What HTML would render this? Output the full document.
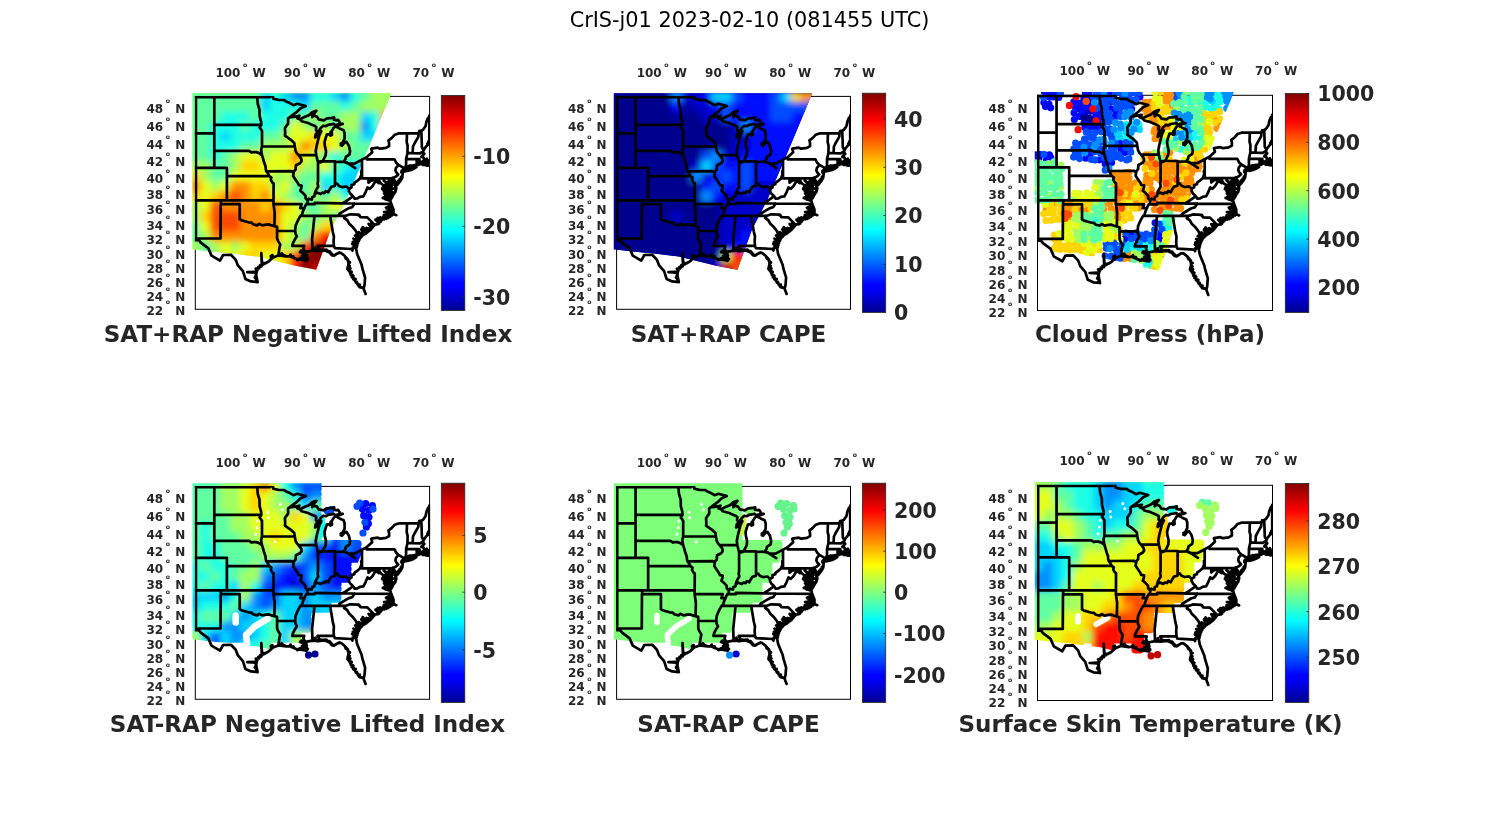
<!DOCTYPE html>
<html lang="en"><head><meta charset="utf-8"><title>CrIS-j01 2023-02-10 (081455 UTC)</title>
<style>html,body{margin:0;padding:0;background:#fff}svg{display:block}text{font-family:"DejaVu Sans","Liberation Sans",sans-serif}.b{font-weight:bold;fill:#262626}.tk{font-size:12px}.dg{font-size:6.2px}.cb{font-size:20.5px}.pt{font-size:23.05px}</style></head><body>
<svg width="1500" height="825" viewBox="0 0 1500 825">
<defs>
<linearGradient id="jet" x1="0" y1="1" x2="0" y2="0">
<stop offset="0" stop-color="rgb(0,0,143)"/>
<stop offset="0.11" stop-color="rgb(0,0,255)"/>
<stop offset="0.125" stop-color="rgb(0,0,255)"/>
<stop offset="0.25" stop-color="rgb(0,128,255)"/>
<stop offset="0.375" stop-color="rgb(0,255,255)"/>
<stop offset="0.5" stop-color="rgb(128,255,128)"/>
<stop offset="0.625" stop-color="rgb(255,255,0)"/>
<stop offset="0.75" stop-color="rgb(255,128,0)"/>
<stop offset="0.875" stop-color="rgb(255,0,0)"/>
<stop offset="1" stop-color="rgb(128,0,0)"/>
</linearGradient>
<clipPath id="fc"><rect x="-0.5" y="-0.5" width="235.3" height="213.9"/></clipPath>
<clipPath id="dc"><rect x="-4" y="-4" width="242.3" height="220.9"/></clipPath>
<filter id="bl2" x="-20%" y="-20%" width="140%" height="140%"><feGaussianBlur stdDeviation="2"/></filter>
<filter id="bl4" x="-30%" y="-30%" width="160%" height="160%"><feGaussianBlur stdDeviation="4"/></filter>
<filter id="bl7" x="-40%" y="-40%" width="180%" height="180%"><feGaussianBlur stdDeviation="7"/></filter>
<clipPath id="sw"><polygon points="-3,-3.2 196,-3.2 175.6,45.5 150.4,104.6 135.6,133 121,173.4 98.8,169 62.4,160.2 37.7,157.2 16,155 -3,152.8"/></clipPath><filter id="bl3" x="-10%" y="-10%" width="120%" height="120%"><feGaussianBlur stdDeviation="3.2"/></filter><mask id="mk3" maskUnits="userSpaceOnUse" x="-10" y="-10" width="260" height="200"><path d="M-2.5 -2.5h125M-2.5 2.5h125M-2.5 7.5h125M-2.5 12.5h125M-2.5 17.5h125M-2.5 22.5h125M-2.5 27.5h125M-2.5 32.5h125M-2.5 37.5h125M-2.5 42.5h125M-2.5 47.5h125M-2.5 52.5h125M-2.5 57.5h165M-2.5 62.5h165M-2.5 67.5h165M-2.5 72.5h165M-2.5 77.5h155M-2.5 82.5h155M-2.5 87.5h155M-2.5 92.5h155M-2.5 97.5h145M-2.5 102.5h145M-2.5 107.5h145M-2.5 112.5h145M-2.5 117.5h135M-2.5 122.5h135M-2.5 127.5h115M-2.5 132.5h115M-2.5 137.5h115M-2.5 142.5h115M-2.5 147.5h105M-2.5 152.5h105M57.5 157.5h15M57.5 162.5h15" fill="none" stroke="#fff" stroke-width="7.8" stroke-linecap="round"/></mask><mask id="mk5" maskUnits="userSpaceOnUse" x="-10" y="-10" width="260" height="200"><path d="M-2.5 -2.5h125M-2.5 2.5h125M-2.5 7.5h125M-2.5 12.5h125M-2.5 17.5h125M-2.5 22.5h125M-2.5 27.5h125M-2.5 32.5h125M-2.5 37.5h125M-2.5 42.5h125M-2.5 47.5h125M-2.5 52.5h125M-2.5 57.5h165M-2.5 62.5h165M-2.5 67.5h165M-2.5 72.5h165M-2.5 77.5h155M-2.5 82.5h155M-2.5 87.5h155M-2.5 92.5h155M-2.5 97.5h145M-2.5 102.5h145M-2.5 107.5h145M-2.5 112.5h145M-2.5 117.5h135M-2.5 122.5h135M-2.5 127.5h115M-2.5 132.5h115M-2.5 137.5h115M-2.5 142.5h115M-2.5 147.5h105M-2.5 152.5h105M37.5 157.5h5M37.5 162.5h5M57.5 157.5h15M57.5 162.5h15M97.5 157.5h5M97.5 162.5h5" fill="none" stroke="#fff" stroke-width="7.8" stroke-linecap="round"/></mask>
<g id="st" fill="none" stroke="#000" stroke-width="2.7" stroke-linejoin="round" stroke-linecap="round"><path d="M-0.8 0 L74.9 0 L74.9 -3.7 L76.9 -3.1 L78 2.4 L83 3.5 L86.5 3.6 L88.7 3.6 L91.5 5.4 L94.6 6.7 L98.1 8.8 L101.9 7.4 L106.6 8.6 L109.7 9.5 L110.3 9.7 M19 0 L19 71.4 M-0.8 37 L19 37 M-0.8 71.4 L31.6 71.4 L31.6 103.9 M31.6 79.7 L73.9 79.7 M-0.8 103.9 L78.2 103.9 M25.6 103.9 L25.6 107.8 L44.4 107.8 L44.4 122.8 M25.4 107.8 L25.2 142.1 L2.9 142.1 L3.5 143.7 L-0.8 143.7 M19 28.5 L66 28.5 M19 54.5 L53.9 54.5 L56.4 56.2 L57.9 55.6 L60.8 55.7 L63.3 56.5 L65.1 57.7 L66.7 58.8 M61.8 0 L62.5 7.6 L64.2 13.3 L64.3 19.7 L65.8 25.2 L66 28.5 L64.3 31.1 L66.7 34.3 L66.7 50.1 L65.8 53.6 L66.7 58.8 M66.7 50.1 L99.5 50.1 M66.7 58.8 L68 63 L68.9 66.4 L70.2 69.8 L70.5 73.1 L71 74.9 L73 77.6 L73.9 79.7 L76.1 81.3 L75.5 83.4 L77.1 86.2 L78.3 87 L78.2 107.8 M71 74.9 L96.3 74.7 L98.3 76.6 M78.2 107.8 L106.3 107.8 L104.9 111.7 L109.1 111.7 M78.2 107.8 L79.4 116.3 L79.1 129.8 M44.4 122.8 L46.3 124 L49.5 124.8 L53.2 125.9 L56.4 126.3 L57.6 127.8 L62 129 L63.9 127.4 L67 129 L70.8 128.2 L73.9 128 L76.4 129 L79.1 129.8 L81.8 130.5 L81.8 142.1 L83 145 L84.9 148 L84 152.4 L83.7 154.6 L83 159 M81.8 134.5 L99.9 134.6 M94 21.1 L92.8 22 L92.8 27.2 L89.6 31.6 L89.9 37 L89.6 39.2 L92.8 41.4 L95.3 43.2 L99 46.7 L99.5 50.1 L100.3 54.5 L101.6 57 L103.2 58.7 L105.9 62.2 L106.3 64.7 L104.7 66.8 L100.6 68.9 L100.3 73.1 L98.4 75.2 L98.3 76.6 L97.8 79.7 L100.3 83.4 L102.8 87.1 L103.4 88.7 L106.3 89.1 L105.9 91.9 L105 94.3 L107.8 96.7 L110.3 99.5 L110.3 101.9 L112.5 104 L112.2 107 L111 107.8 L110 109.3 L109.1 111.7 L107.5 115.2 L106.6 118.7 L105.3 119.4 L103.4 122.5 L101.6 126.3 L100.3 129.3 L100 132.4 L99.9 134.6 L100.3 137.6 L101.6 139.9 L99.7 142.8 L97.8 146.5 L97 149.5 L108.9 149.5 L108.1 152 L109.4 154.6 L110.2 155.5 M103.2 58.7 L121 58.8 M122.7 65 L122.7 85 L122.3 87.1 L122.9 90.3 L121.3 92.7 L120.1 95.1 L119.4 97.5 M112.5 104 L113.5 102.3 L116.6 103.3 L116.9 100.7 L119.1 99.9 L119.4 97.5 L122.3 96.3 L125.4 97.5 L127.3 96.1 L129.2 96.7 L130.4 94.7 L132.9 95.9 L133.9 93.8 L136.1 90.3 L139.5 89.5 L139.7 87.1 L141.7 87.1 L143.6 89.5 L146.7 90.7 L151.1 90.1 L153.6 92.5 L156.2 91.1 L156.2 88.7 L159 87.9 L159.3 86.2 L161.8 84.6 L164.6 82.2 L166.2 78.1 L165.9 74.8 L166.7 74.4 M139.7 87.1 L139.7 65.6 M124.8 65 L139.7 65 L139.7 65.6 L148.3 65.3 M166.7 63.2 L166.7 82 L196.4 82 L197.6 81.1 L198.5 81.2 M171.5 60.7 L171.5 63 L199.2 63 L201 66.4 L203.2 68.5 L200.7 71.4 L200.1 73.9 L201 76 L202.9 78.1 L200.7 80.1 L198.5 81.2 M203.2 68.5 L208.3 71.4 L207.5 73.9 M111 107.8 L119.4 107.8 L119.4 106.5 L146.9 107 L159.4 107.1 L195.9 107.4 M105.3 119.4 L150.5 119.4 M142.9 119.4 L144.5 117.1 L148 115 L150.5 113.5 L153.6 111.7 L156.8 110.9 L159.4 107.1 M118.5 119.4 L119.1 120.2 L116.8 142.8 L117.2 154.1 M134.8 119.4 L137.5 135.6 L138.6 139.9 L138.3 145 L138.6 149.5 M122.8 154.7 L123.5 151.7 L122.3 149.5 L138.6 149.5 L139.5 151.7 L156.1 152.6 L157.1 154.2 L157.4 151.3 L160.9 151.6 M150.5 119.4 L148.9 121.7 L151.8 123.6 L154 127.4 L157.7 130.9 L160.6 134.6 L161.8 138 L164.3 141.7 M150.5 119.4 L154.9 117.9 L163.4 118.3 L163.4 119 L164.1 118.7 L165.1 120.8 L172 121 L179.1 128.2 M146.9 107 L150.5 105 L155.5 101.5 L157.6 99.6 L154.9 97.1 L153.6 94.6 L153.6 92.5 M157.6 99.6 L159.4 102.3 L162.2 102 L164.6 100.5 L168.1 99.9 L168.6 98.9 L170.2 95.9 L172.2 91.1 L174.4 92.5 L177.1 89.8 L180.3 84.6 L183.6 86.8 L184.3 85.3 M184.3 85.3 L183.6 83 L180 82.8 L177.5 83.8 L175.6 84.2 L173.2 86.2 L173.2 82 M184.3 85.3 L185.7 87.1 L188.5 89.1 L186.9 92.7 L188.8 93.5 L193.2 96.3 M196.4 82 L196.4 92.3 L201 92.3 M195.7 96.3 L199.8 95.9 M209.8 71.4 L210.8 68.9 L210.8 62.6 L212.2 56.6 L212.3 49.3 L211.4 45.8 L211.7 37 M210.8 62.7 L221.4 62.8 L224.1 62.8 L224.1 63.9 L225.7 67.2 M212.2 56.7 L217.3 56.8 L224.6 57 L226.5 55.8 L227.7 55.6 M217.3 56.8 L217.7 50.1 L219.9 45.8 L223 40.5 L223.3 37 M228.3 53.9 L226.6 51 L226.3 41.4 L226 34.3 L227.7 33.4 L230.2 29.8 L231.2 25.2 L232.7 21.6 M193.2 44 L196.3 41.8 L199.5 38.3 L203.2 37 L223.3 37 L223.9 34.7 L226 34.3 M221.4 62.8 L221.4 68.9 M3.5 143.7 L5.5 146.2 L13.1 152 L16.2 159.3 L24.7 164.2 L27.8 158.6 L35.7 158.4 L40.4 163.3 L42.6 169 L47.6 174.7 L50.1 182.5 L55.7 185 L62.3 185.7 L60.8 178.3 L62 172.6 L67 168.3 L73.9 164.7 L77.7 161.1 L83 159 L90.9 160 L94 159.7 L99 161.9 L103.4 163.3 L105.9 163.3 L111 164.4 L111.9 161.9 L109.7 159 L111 156.8 L110.2 155.5 L117.2 154.2 L119.1 154.6 L119.8 151.7 L121 154.6 L122.8 154.7 L129.2 153.9 L134.2 156.1 L136.7 159.1 L139.2 159 L143 156.4 L145.5 156.4 L149.3 159.4 L152.7 163.3 L153.6 166 L152.7 169.8 L152.1 172.5 L154.3 175.4 L156.3 179.1 L158.4 182.5 L160.6 185.6 L163.9 189.9 L168.1 191.9 L170.3 197.5 L168.3 192.3 L169.2 188.8 L169.8 181.2 L167.2 172.5 L166.3 168.3 L163.9 162.6 L161.8 157.5 L160.7 151.6 L162.4 145.8 L164.3 141.7 L167.5 138.4 L170.6 136.5 L175 133.1 L176.9 129.7 L179.1 128.2 L182.8 127.8 L186.3 123.3 L191.3 121.7 L195.1 118.7 L198.2 117.5 L198.2 113.2 L195.9 107.4 L195.1 104.4 L193.2 103.9 L193.2 99.9 L193.2 96.3 L192.6 93.5 L191.9 88.7 L192.6 86.2 L194.4 83.4 L193.8 87.9 L193.2 90.3 L195.1 94.3 L195.7 96.3 L195.4 99.9 L195.1 102.7 L197.6 99.1 L199.8 95.9 L201 92.3 L200.8 89.5 L198.8 85.4 L197.9 83 L198.5 81.2 M198.5 81.2 L198.2 83.8 L201.3 86.2 L202 88.4 L205.1 84.6 L207 81.3 L207.6 76 L206.4 75.6 L207.3 74.3 M207.6 74.9 L212 74.5 L217.7 72.7 L221 70.8 L218.3 70.6 L216.1 71.6 L212 72.1 L209.2 73.1 L207.6 74.9 M209.8 71.4 L214.5 69.3 L220.2 68.9 L221.1 68.9 L223.3 68.3 L223.9 67.2 L224.3 65.1 L225.2 67.2 L225.7 67.2 L227.1 66.8 L228.7 66.8 L232.7 66.8 L233 65.6 L231.5 62.3 L232.7 64.7 L229.3 64.7 L228.3 61.3 L226.5 60 L229 57.5 L227.7 55.6 L228.3 53.9 L229.3 51.9 L231.5 49.3 L233.4 47.5 M148.3 65.3 L153 67.2 L159.3 67.2 L166.7 63.2 L171.5 60.7 L176.9 55.8 L175.9 52.3 L182.5 51.3 L185 52.3 L190.7 51.5 L193.8 49.7 L193.8 46.7 L193.2 44 M148.3 65.3 L150.2 62.6 L150.5 60.5 L154.3 57.9 L154.8 54.5 L153.6 49.3 L151.1 45.4 L148.6 46.7 L145.5 48.8 L148 44.9 L149.3 42.3 L149.3 37 L148.3 33.8 L144.2 32 L140.2 30 L138.6 31.1 L136.1 35.2 L134.8 37.9 L131.7 37.9 L130.7 40.5 L129.2 45.8 L129.5 49.3 L130.7 54.5 L130.4 58.8 L128.5 62.6 L127.2 65 L124.8 66 L122.7 65.6 L122.3 64.3 L121 58.8 L120.4 54.5 L121.6 48.4 L122.9 43.2 L124.1 38.7 L126 34.7 L122.3 38.3 L119.8 41 L120.4 37.9 L122.3 36.1 M122.3 36.1 L120.7 33.8 L121 30.7 L119.1 29.3 L114.7 27.5 L112.9 26.6 L106.4 24.9 L104.6 22.8 M122.3 36.1 L125.4 31.6 L127.9 29.3 L130.4 29.8 L132.9 28.4 L138.6 27.5 L140.2 29.3 L143 28.4 L145.5 28.4 L144.2 25.7 L142.7 23.4 L141.1 23.9 L138.6 23.4 L138.9 20.9 L135.4 21.8 L131.7 21.9 L128.5 23.9 L123.5 23 L121.6 20.2 L118.5 19.3 L116.9 20.7 L119.8 16 L121 14.5 L116.6 16 L113.5 18.8 L109.7 20.4 L104.6 22.8 L102.2 22 L102.5 19.7 L99.7 20.2 L94 21.1 M110.3 9.7 L105.3 11.9 L100.9 16 L96.5 19.3 L94 21.1 M0.6 0 L0.6 143.7 M0.2 0.7 L74.9 0.7 M193.2 103.9 L191 102.7 L187.5 101.5 L190.7 102.1 L192.6 101.9 L190.1 99.9 L191.9 100.3 L193.2 99.1 L190.7 97.1 L188.8 94.7 L191.3 96.3 L193.2 96.3 L190.7 94.3 L188.8 93.5 M192.6 93.5 L190.7 91.1 L191.9 91.9 L191.6 88.7 L192.9 87.9 L191.9 85.8 L193.8 85 L195.1 83.8 L194.4 86.2 L193.5 88.3 L194.8 89.5 L193.2 91.1 L195.4 91.5 L193.5 93.1 L196 93.5 L194.4 95.1 L196.6 95.1 L195.7 96.7 L197 96.7 L195.4 99.9 L196.3 100.7 L195.1 102.7 M194.4 102.3 L193.5 99.1 L194.1 95.9 L193.2 92.7 L193.5 88.7 L194.1 85.4 M198.2 98.3 L199.2 95.9 L200.7 93.1 L200.1 95.5 L198.5 96.7 L197.3 99.9 L196 102.3 M195.9 107.4 L195.1 109.3 L190.7 111.3 L193.8 110.9 L195.7 110.5 L191.3 112.1 L195.1 112.1 L196.6 112.5 L195.4 114.8 L192.6 115.2 L188.8 115.6 L191.9 116.3 L192.9 117.1 L191.3 118.7 L188.5 118.7 L191.3 119.6 L192.9 119.8 L191.6 121.6 M198.2 117.5 L201 118.8 L197.9 117.7 L196.6 115.6 L197.3 112.9 L196.3 110.1 L195.4 107.8 M195.1 118.7 L196.3 115.6 L194.8 116.7 L193.8 114 L196 113.6 L194.4 111.7 M176.9 129.7 L174.4 131.6 L175.3 132 L172.5 133.9 L173.4 134.6 L170 135.7 L170.9 136.9 L166.8 136.9 L168.1 138.4 L164 138.7 L165.9 140.2 L162.7 141 L164.6 142.1 L161.8 143.2 L163.4 144.3 L160.9 145.4 L162.4 146.9 L159.9 148 L161.5 149.1 L159.6 150.2 L161.1 151.5 M182.8 127.8 L182.2 125.5 L183.1 126.3 L185 123.6 L186.9 122.5 L186 121.7 L189.4 121.7 L191.3 121.7 M200.8 89.5 L199.5 87.9 L198.5 84.6 L197.6 82.6 L199.2 84.6 L200.4 86.2 L201.7 86.2 L202 88.3 L203.5 86.2 L205.4 83.8 L204.5 85 L206.4 82.2 L207.3 78.9 L206.7 81.8 L207.6 76 L206.1 76 L207.6 74.3 L208.3 72.3 M207.6 74.9 L210.1 74.9 L212.6 74.3 L215.8 73.5 L218.3 72.4 L221 70.8 L219.6 71.4 L217.7 71 L216.7 72.3 L216.4 71.4 L213.9 71.8 L211.4 72.3 L209.5 72.7 L209.2 73.5 L212 73.9 L214.5 73.3 M209.8 71.4 L212.6 70.2 L214.5 69.1 L216.4 69.3 L218 68.9 L219.6 68.7 L221.1 68.7 L222.7 68.3 L223.6 67.7 L223.9 65.6 L224.6 65.1 L224.9 67.2 L225.8 67.2 L226.8 66.4 L228.7 67.1 L228.8 65.1 L230.8 66.1 L232.7 65.8 M227.4 66.4 L228.3 68.5 L229.9 68.1 L229 67.5 L232.1 69.1 L232.7 68.9 M232.7 64.7 L229.6 64.9 L228.7 63 L228 60.9 L226.1 60.5 L227.1 59.2 L229 57.5 L227.7 56.6 M110.2 155.5 L108.5 155.3 L106.6 156.4 L104.7 155.7 L105.9 154.2 L108.1 155 L109.7 156.4 L108.1 157.9 L110.7 157.1 L109.1 159.7 L111.6 159 L109.7 161.5 L112.5 162.6 L111 164.4 L110.3 162.2 L107.5 161.9 L106.6 159.7 L106.6 162.9 L104.4 161.9 L102.2 163.7 L100.9 162.6 L99 161.9 L98.1 160 L95.6 160.4 L95.3 158.2 L94 159.7 M83 159 L83.4 157.1 L85.2 158.4 L86.5 156.8 L87.7 158.4 L90.9 159.9 M77.7 161.1 L77.1 158.6 L75.5 159.7 L76.1 161.9 L73.9 164.7 L70.2 166.9 L66.4 166.5 L68.3 168 L64.8 168.7 L66.1 170.1 L63 170.5 L63.9 171.9 L60.4 172.3 L62 174 L59.5 176.2 L61.1 178.3 L59.5 181.1 L61.4 183.2 L60.8 185 L62.3 185.7 M152.1 172.5 L154.6 171.5 L153.3 174 L154.9 174.4 L155.5 178.6 L157.4 178.6 L156.5 180.8 L158.4 181.5 L158 182.9 M160.6 185.6 L162.1 186.7 L162.7 188.5 L164.3 190.9 L166.2 191.3 M149.3 159.4 L150.5 162.2 L152.1 162.6 L152.4 164.4 L153.3 165.1 M122.8 154.7 L124.8 153.1 L126 153.5 L128.5 153.5 L131.1 153.1 L132.3 154.6 L134.2 154.6 L136.1 157.1 L138.6 159.3 L140.5 157.9 L142.3 157.1 L144.2 156.1 M119.1 154.6 L119.1 152.4 L120.1 151.3 L120.4 153.1 L121.3 154.6 M145.5 48.8 L147.4 48 L145.5 47.1 L147.7 46.2 L145.8 48.4 L148.3 47.5 L146.7 49.3 M134.8 37.9 L135.4 35.6 L135.8 38.7 L136.4 35.2 L136.7 38.3 L135.1 39.2 M151.3 66 L159.9 71.7 L151.8 66.4 M126 34.7 L124.8 37 L123.2 39.2 L121.6 39.6 L120.1 41 L121.6 37.4 L123.8 35.2 M116.9 20.7 L117.9 18.8 L116.3 18.4 L119.1 16.5 L116 17 M140.2 29.8 L141.4 28.4 L143 28 L141.7 30.2 L144.2 28.4 L147.4 27.5 L145.5 28 M102.5 19.7 L104.1 19.3 L101.6 21.1 L103.4 20.7 M197.9 83 L199.5 84.2 L198.2 85 L200.7 85.4 L199.2 86.7 L201.7 86.7 L200.4 87.9 L202.3 87.5 L201.7 88.4 L203.2 87.1 L202.3 85.8 L204.2 85.4 L203.2 84.2 L205.1 83.8 L204.5 82.6 L206.1 82.2 L205.7 80.5 L207 80.1 M201 92.3 L200.1 91.1 L200.7 90.3 L199.2 88.7 L200.1 87.5 L198.5 86.7 L198.8 85.4 L197.6 84.2 M193.2 96.3 L191.6 95.5 L191.9 94.3 L189.4 93.9 L190.1 92.7 L188.2 92.7 L187.2 91.5 L188.5 90.3 M221.1 68.7 L223.3 68.5 L223.9 66.4 L225.2 65.6 L224.6 67.7 L226.1 67.2 L227.1 65.1 L228.3 66.4 L229 65.1 L229.9 66.4 L231.5 65.6 L233 66 L232.7 63.9 L231.2 62.6 L232.4 64.7 M227.4 68.5 L229.9 68.5 L229 67.7 L227.4 68.5 M230.8 68.9 L233 69.3 L232.4 68.5 L230.8 68.9 M209.2 72.3 L212.6 71 L216.4 70.2 L218.9 69.8 L220.8 69.3 M216.1 71.6 L218.3 70.2 L217.4 71.4 L219.6 70.6 M206.1 75.6 L207 74.8 L206.4 74.3 L207.3 73.5 M66.4 166.2 L66 156.8 L66.7 165.8 M59.5 175.4 L52 175.8 L59.8 176.2 M234 19.3 L234 47.5 M231.5 49.3 L233 48 L232.1 47.1 L233.7 46.7 L233 45.4 L234 44 M178.5 128.9 L176.1 126.5 L178.8 129.3 M177.2 130.4 L174.4 127.7 L177.6 130.8 M176 131.9 L173.3 127.5 L176.3 132.3 M174.8 133.3 L172.8 131.9 L175.1 133.7 M173.3 134.4 L171.2 131.5 L173.6 134.8 M171.9 135.5 L167.5 130.7 L172.2 135.9 M170.4 136.6 L166.4 132.3 L170.7 137 M168.8 137.5 L166 133.2 L169.2 137.9 M167.3 138.5 L163.4 135.7 L167.6 138.9 M166 139.9 L162.6 137.1 L166.4 140.2 M164.8 141.2 L162 136.7 L165.1 141.6 M163.8 142.9 L159.8 139.1 L164.1 143.3 M163 144.7 L161 141.5 L163.3 145 M162.2 146.5 L158.2 142.2 L162.5 146.9 M161.7 148.4 L157.5 145.5 L162 148.8 M161.1 150.3 L156.9 147.6 L161.5 150.7 M196.1 109 L193 107.5 L196.4 109.4 M197 111.5 L193.6 110.2 L197.3 111.9 M197.6 114 L193.8 109.8 L198 114.4 M197.8 116.7 L196 114.9 L198.2 117.1 M196.6 118.4 L192 114.9 L196.9 118.8 M194.7 119.8 L191.3 116.7 L195 120.1 M192.8 121.1 L189.7 118.5 L193.1 121.5 M190.8 122 L188 120.2 L191.1 122.4 M188.7 122.6 L184.9 121 L189 123 M186.6 123.2 L182.4 121.5 L186.9 123.6 M185 124.9 L180.2 123.2 L185.3 125.3 M183.6 126.9 L180.2 123.5 L183.9 127.2 M194.7 103.4 L190.2 103 L195 103.8 M194 101.8 L189.5 100.2 L194.3 102.2 M193.3 100.2 L189.6 97.9 L193.6 100.6 M193.1 98.4 L188.8 96.9 L193.4 98.8 M192.9 96.5 L190.5 94.8 L193.2 96.9 M192.7 94.7 L188.2 94.3 L193 95.1 M192.5 92.8 L190.3 92.4 L192.8 93.2 M192.3 91 L189.5 89.1 L192.6 91.4 M192.4 89.1 L189.6 88.5 L192.7 89.5 M192.5 87.2 L188.5 84.2 L192.8 87.6 M152.9 166.6 L154.7 166.1 L153.2 167 M152.5 170.3 L154.5 169.4 L152.8 170.7 M153.4 173.7 L155.1 172 L153.7 174.1 M155 176.9 L156.4 175.6 L155.4 177.3 M156.8 180 L158.2 179.6 L157.1 180.4 M158.6 183.1 L160.4 182.6 L158.9 183.4 M160.5 186.1 L161.6 185.5 L160.8 186.4 M162.6 188.8 L164.5 188.2 L162.9 189.2"/>
</g>
</defs>
<rect width="1500" height="825" fill="#fff"/>
<text x="749.5" y="27.3" text-anchor="middle" font-size="20.8" fill="#000">CrIS-j01 2023-02-10 (081455 UTC)</text>
<g transform="translate(195.3,96.4) scale(1.0000,1.0000)">
<rect x="0" y="0" width="234.3" height="212.9" fill="none" stroke="#000" stroke-width="1"/>
<g clip-path="url(#dc)"><g clip-path="url(#sw)"><rect x="-6" y="-6" width="250" height="190" fill="#a2ff5e"/><g filter="url(#bl3)"><path fill="#0090ff" d="M94.7 -5.3h20.6v10.6h-20.6zM144.7 -5.3h10.6v10.6h-10.6zM164.7 24.7h10.6v10.6h-10.6z"/><path fill="#00d4ff" d="M64.7 -5.3h10.6v10.6h-10.6zM84.7 -5.3h10.6v10.6h-10.6zM134.7 -5.3h10.6v10.6h-10.6zM64.7 4.7h10.6v10.6h-10.6zM104.7 4.7h10.6v10.6h-10.6zM164.7 14.7h10.6v10.6h-10.6zM24.7 34.7h10.6v10.6h-10.6zM164.7 34.7h80.6v10.6h-80.6zM154.7 64.7h90.6v10.6h-90.6zM144.7 74.7h100.6v10.6h-100.6zM124.7 84.7h10.6v10.6h-10.6zM144.7 84.7h100.6v10.6h-100.6z"/><path fill="#1affe5" d="M74.7 -5.3h10.6v10.6h-10.6zM114.7 -5.3h20.6v10.6h-20.6zM154.7 -5.3h10.6v10.6h-10.6zM74.7 4.7h30.6v10.6h-30.6zM144.7 4.7h10.6v10.6h-10.6zM24.7 14.7h30.6v10.6h-30.6zM64.7 14.7h30.6v10.6h-30.6zM174.7 14.7h10.6v10.6h-10.6zM14.7 24.7h30.6v10.6h-30.6zM54.7 24.7h30.6v10.6h-30.6zM174.7 24.7h10.6v10.6h-10.6zM14.7 34.7h10.6v10.6h-10.6zM34.7 34.7h30.6v10.6h-30.6zM14.7 44.7h30.6v10.6h-30.6zM14.7 54.7h10.6v10.6h-10.6zM134.7 54.7h10.6v10.6h-10.6zM144.7 64.7h10.6v10.6h-10.6zM124.7 74.7h20.6v10.6h-20.6zM134.7 84.7h10.6v10.6h-10.6zM144.7 94.7h100.6v10.6h-100.6z"/><path fill="#5effa2" d="M-5.3 -5.3h70.6v10.6h-70.6zM164.7 -5.3h10.6v10.6h-10.6zM-5.3 4.7h70.6v10.6h-70.6zM114.7 4.7h30.6v10.6h-30.6zM154.7 4.7h10.6v10.6h-10.6zM-5.3 14.7h30.6v10.6h-30.6zM54.7 14.7h10.6v10.6h-10.6zM94.7 14.7h20.6v10.6h-20.6zM124.7 14.7h20.6v10.6h-20.6zM-5.3 24.7h20.6v10.6h-20.6zM44.7 24.7h10.6v10.6h-10.6zM84.7 24.7h10.6v10.6h-10.6zM114.7 24.7h10.6v10.6h-10.6zM134.7 24.7h10.6v10.6h-10.6zM-5.3 34.7h20.6v10.6h-20.6zM64.7 34.7h20.6v10.6h-20.6zM144.7 34.7h20.6v10.6h-20.6zM-5.3 44.7h20.6v10.6h-20.6zM44.7 44.7h20.6v10.6h-20.6zM154.7 44.7h90.6v10.6h-90.6zM-5.3 54.7h20.6v10.6h-20.6zM24.7 54.7h10.6v10.6h-10.6zM124.7 54.7h10.6v10.6h-10.6zM144.7 54.7h100.6v10.6h-100.6zM14.7 64.7h20.6v10.6h-20.6zM134.7 64.7h10.6v10.6h-10.6zM14.7 74.7h20.6v10.6h-20.6zM104.7 74.7h20.6v10.6h-20.6zM94.7 84.7h20.6v10.6h-20.6zM94.7 94.7h20.6v10.6h-20.6zM124.7 94.7h10.6v10.6h-10.6zM104.7 104.7h20.6v10.6h-20.6zM114.7 114.7h10.6v10.6h-10.6zM134.7 114.7h110.6v10.6h-110.6zM-5.3 124.7h10.6v10.6h-10.6zM104.7 124.7h10.6v10.6h-10.6zM-5.3 134.7h10.6v10.6h-10.6zM104.7 134.7h10.6v10.6h-10.6zM4.7 144.7h10.6v10.6h-10.6zM4.7 154.7h10.6v10.6h-10.6zM4.7 164.7h10.6v10.6h-10.6zM4.7 174.7h10.6v10.6h-10.6z"/><path fill="#a2ff5e" d="M174.7 -5.3h70.6v10.6h-70.6zM164.7 4.7h80.6v10.6h-80.6zM114.7 14.7h10.6v10.6h-10.6zM144.7 14.7h20.6v10.6h-20.6zM104.7 24.7h10.6v10.6h-10.6zM124.7 24.7h10.6v10.6h-10.6zM144.7 24.7h20.6v10.6h-20.6zM84.7 34.7h10.6v10.6h-10.6zM64.7 44.7h30.6v10.6h-30.6zM144.7 44.7h10.6v10.6h-10.6zM34.7 54.7h10.6v10.6h-10.6zM64.7 54.7h10.6v10.6h-10.6zM114.7 54.7h10.6v10.6h-10.6zM-5.3 64.7h20.6v10.6h-20.6zM34.7 64.7h10.6v10.6h-10.6zM104.7 64.7h20.6v10.6h-20.6zM4.7 74.7h10.6v10.6h-10.6zM74.7 74.7h30.6v10.6h-30.6zM14.7 84.7h10.6v10.6h-10.6zM74.7 84.7h10.6v10.6h-10.6zM114.7 84.7h10.6v10.6h-10.6zM84.7 94.7h10.6v10.6h-10.6zM114.7 94.7h10.6v10.6h-10.6zM134.7 94.7h10.6v10.6h-10.6zM-5.3 104.7h10.6v10.6h-10.6zM124.7 104.7h10.6v10.6h-10.6zM-5.3 114.7h10.6v10.6h-10.6zM104.7 114.7h10.6v10.6h-10.6zM124.7 114.7h10.6v10.6h-10.6zM94.7 124.7h10.6v10.6h-10.6zM114.7 124.7h10.6v10.6h-10.6zM4.7 134.7h10.6v10.6h-10.6zM94.7 134.7h10.6v10.6h-10.6zM-5.3 144.7h10.6v10.6h-10.6zM14.7 144.7h10.6v10.6h-10.6zM34.7 144.7h10.6v10.6h-10.6zM84.7 144.7h20.6v10.6h-20.6zM-5.3 154.7h10.6v10.6h-10.6zM14.7 154.7h10.6v10.6h-10.6zM-5.3 164.7h10.6v10.6h-10.6zM14.7 164.7h10.6v10.6h-10.6zM-5.3 174.7h10.6v10.6h-10.6zM14.7 174.7h10.6v10.6h-10.6z"/><path fill="#e5ff1a" d="M94.7 24.7h10.6v10.6h-10.6zM94.7 34.7h20.6v10.6h-20.6zM124.7 34.7h20.6v10.6h-20.6zM94.7 44.7h10.6v10.6h-10.6zM134.7 44.7h10.6v10.6h-10.6zM44.7 54.7h20.6v10.6h-20.6zM74.7 54.7h20.6v10.6h-20.6zM104.7 54.7h10.6v10.6h-10.6zM64.7 64.7h30.6v10.6h-30.6zM124.7 64.7h10.6v10.6h-10.6zM34.7 74.7h40.6v10.6h-40.6zM4.7 84.7h10.6v10.6h-10.6zM24.7 84.7h10.6v10.6h-10.6zM84.7 84.7h10.6v10.6h-10.6zM4.7 94.7h10.6v10.6h-10.6zM74.7 94.7h10.6v10.6h-10.6zM4.7 104.7h10.6v10.6h-10.6zM94.7 104.7h10.6v10.6h-10.6zM134.7 104.7h110.6v10.6h-110.6zM84.7 114.7h20.6v10.6h-20.6zM4.7 124.7h10.6v10.6h-10.6zM84.7 124.7h10.6v10.6h-10.6zM84.7 134.7h10.6v10.6h-10.6zM24.7 144.7h10.6v10.6h-10.6zM44.7 144.7h10.6v10.6h-10.6zM24.7 154.7h20.6v10.6h-20.6zM64.7 154.7h20.6v10.6h-20.6zM24.7 164.7h20.6v10.6h-20.6zM64.7 164.7h20.6v10.6h-20.6zM24.7 174.7h20.6v10.6h-20.6zM64.7 174.7h20.6v10.6h-20.6z"/><path fill="#ffd500" d="M114.7 34.7h10.6v10.6h-10.6zM114.7 44.7h20.6v10.6h-20.6zM44.7 64.7h20.6v10.6h-20.6zM94.7 64.7h10.6v10.6h-10.6zM-5.3 74.7h10.6v10.6h-10.6zM54.7 84.7h20.6v10.6h-20.6zM-5.3 94.7h10.6v10.6h-10.6zM14.7 94.7h10.6v10.6h-10.6zM54.7 94.7h10.6v10.6h-10.6zM64.7 104.7h10.6v10.6h-10.6zM84.7 104.7h10.6v10.6h-10.6zM4.7 114.7h10.6v10.6h-10.6zM124.7 124.7h120.6v10.6h-120.6zM54.7 144.7h30.6v10.6h-30.6zM44.7 154.7h20.6v10.6h-20.6zM84.7 154.7h10.6v10.6h-10.6zM44.7 164.7h20.6v10.6h-20.6zM84.7 164.7h10.6v10.6h-10.6zM44.7 174.7h20.6v10.6h-20.6zM84.7 174.7h10.6v10.6h-10.6z"/><path fill="#ff9100" d="M184.7 14.7h60.6v10.6h-60.6zM184.7 24.7h60.6v10.6h-60.6zM104.7 44.7h10.6v10.6h-10.6zM94.7 54.7h10.6v10.6h-10.6zM-5.3 84.7h10.6v10.6h-10.6zM34.7 84.7h20.6v10.6h-20.6zM24.7 94.7h10.6v10.6h-10.6zM44.7 94.7h10.6v10.6h-10.6zM64.7 94.7h10.6v10.6h-10.6zM24.7 104.7h40.6v10.6h-40.6zM74.7 104.7h10.6v10.6h-10.6zM44.7 114.7h40.6v10.6h-40.6zM44.7 124.7h40.6v10.6h-40.6zM14.7 134.7h70.6v10.6h-70.6zM114.7 134.7h10.6v10.6h-10.6z"/><path fill="#ff4c00" d="M34.7 94.7h10.6v10.6h-10.6zM14.7 104.7h10.6v10.6h-10.6zM14.7 114.7h30.6v10.6h-30.6zM14.7 124.7h30.6v10.6h-30.6zM104.7 144.7h10.6v10.6h-10.6zM94.7 154.7h10.6v10.6h-10.6z"/><path fill="#ff0800" d="M124.7 134.7h120.6v10.6h-120.6zM94.7 164.7h10.6v10.6h-10.6zM94.7 174.7h10.6v10.6h-10.6z"/><path fill="#c30000" d="M114.7 144.7h130.6v10.6h-130.6zM114.7 164.7h10.6v10.6h-10.6zM114.7 174.7h10.6v10.6h-10.6z"/><path fill="#800000" d="M104.7 154.7h140.6v10.6h-140.6zM104.7 164.7h10.6v10.6h-10.6zM124.7 164.7h120.6v10.6h-120.6zM104.7 174.7h10.6v10.6h-10.6zM124.7 174.7h120.6v10.6h-120.6z"/></g></g></g>
<g clip-path="url(#fc)"><use href="#st"/></g>
<text class="b tk" x="45.3" y="-19.7" text-anchor="middle">100<tspan class="dg" dx="2.6" dy="-10.2">o</tspan><tspan dx="1" dy="10.2"> W</tspan></text>
<text class="b tk" x="109.6" y="-19.7" text-anchor="middle">90<tspan class="dg" dx="2.6" dy="-10.2">o</tspan><tspan dx="1" dy="10.2"> W</tspan></text>
<text class="b tk" x="173.9" y="-19.7" text-anchor="middle">80<tspan class="dg" dx="2.6" dy="-10.2">o</tspan><tspan dx="1" dy="10.2"> W</tspan></text>
<text class="b tk" x="238.2" y="-19.7" text-anchor="middle">70<tspan class="dg" dx="2.6" dy="-10.2">o</tspan><tspan dx="1" dy="10.2"> W</tspan></text>
<text class="b tk" x="-10" y="218.3" text-anchor="end">22<tspan class="dg" dx="2.6" dy="-10.2">o</tspan><tspan dx="1" dy="10.2"> N</tspan></text>
<text class="b tk" x="-10" y="204.7" text-anchor="end">24<tspan class="dg" dx="2.6" dy="-10.2">o</tspan><tspan dx="1" dy="10.2"> N</tspan></text>
<text class="b tk" x="-10" y="191" text-anchor="end">26<tspan class="dg" dx="2.6" dy="-10.2">o</tspan><tspan dx="1" dy="10.2"> N</tspan></text>
<text class="b tk" x="-10" y="177" text-anchor="end">28<tspan class="dg" dx="2.6" dy="-10.2">o</tspan><tspan dx="1" dy="10.2"> N</tspan></text>
<text class="b tk" x="-10" y="162.7" text-anchor="end">30<tspan class="dg" dx="2.6" dy="-10.2">o</tspan><tspan dx="1" dy="10.2"> N</tspan></text>
<text class="b tk" x="-10" y="148.1" text-anchor="end">32<tspan class="dg" dx="2.6" dy="-10.2">o</tspan><tspan dx="1" dy="10.2"> N</tspan></text>
<text class="b tk" x="-10" y="133.3" text-anchor="end">34<tspan class="dg" dx="2.6" dy="-10.2">o</tspan><tspan dx="1" dy="10.2"> N</tspan></text>
<text class="b tk" x="-10" y="118" text-anchor="end">36<tspan class="dg" dx="2.6" dy="-10.2">o</tspan><tspan dx="1" dy="10.2"> N</tspan></text>
<text class="b tk" x="-10" y="102.4" text-anchor="end">38<tspan class="dg" dx="2.6" dy="-10.2">o</tspan><tspan dx="1" dy="10.2"> N</tspan></text>
<text class="b tk" x="-10" y="86.4" text-anchor="end">40<tspan class="dg" dx="2.6" dy="-10.2">o</tspan><tspan dx="1" dy="10.2"> N</tspan></text>
<text class="b tk" x="-10" y="69.8" text-anchor="end">42<tspan class="dg" dx="2.6" dy="-10.2">o</tspan><tspan dx="1" dy="10.2"> N</tspan></text>
<text class="b tk" x="-10" y="52.8" text-anchor="end">44<tspan class="dg" dx="2.6" dy="-10.2">o</tspan><tspan dx="1" dy="10.2"> N</tspan></text>
<text class="b tk" x="-10" y="35.1" text-anchor="end">46<tspan class="dg" dx="2.6" dy="-10.2">o</tspan><tspan dx="1" dy="10.2"> N</tspan></text>
<text class="b tk" x="-10" y="16.8" text-anchor="end">48<tspan class="dg" dx="2.6" dy="-10.2">o</tspan><tspan dx="1" dy="10.2"> N</tspan></text>
</g>
<rect x="441.3" y="95.4" width="23.5" height="215.1" fill="url(#jet)" stroke="#262626" stroke-width="0.8"/>
<path d="M464.8 156.3h-2.5" stroke="#262626" stroke-width="0.8"/>
<text class="b cb" x="473.2" y="164.1">-10</text>
<path d="M464.8 226.4h-2.5" stroke="#262626" stroke-width="0.8"/>
<text class="b cb" x="473.2" y="234.2">-20</text>
<path d="M464.8 296.8h-2.5" stroke="#262626" stroke-width="0.8"/>
<text class="b cb" x="473.2" y="304.6">-30</text>
<text class="b pt" x="308" y="341.7" text-anchor="middle">SAT+RAP Negative Lifted Index</text>
<g transform="translate(616.6,96.4) scale(0.9983,1.0000)">
<rect x="0" y="0" width="234.3" height="212.9" fill="none" stroke="#000" stroke-width="1"/>
<g clip-path="url(#dc)"><g clip-path="url(#sw)"><rect x="-6" y="-6" width="250" height="190" fill="#00008f"/><g filter="url(#bl3)"><path fill="#00008f" d="M-5.3 -5.3h60.6v10.6h-60.6zM-5.3 4.7h60.6v10.6h-60.6zM64.7 4.7h10.6v10.6h-10.6zM-5.3 14.7h90.6v10.6h-90.6zM-5.3 24.7h120.6v10.6h-120.6zM-5.3 34.7h120.6v10.6h-120.6zM-5.3 44.7h120.6v10.6h-120.6zM-5.3 54.7h90.6v10.6h-90.6zM-5.3 64.7h80.6v10.6h-80.6zM-5.3 74.7h80.6v10.6h-80.6zM-5.3 84.7h90.6v10.6h-90.6zM-5.3 94.7h90.6v10.6h-90.6zM-5.3 104.7h110.6v10.6h-110.6zM-5.3 114.7h60.6v10.6h-60.6zM64.7 114.7h40.6v10.6h-40.6zM-5.3 124.7h110.6v10.6h-110.6zM-5.3 134.7h110.6v10.6h-110.6zM-5.3 144.7h110.6v10.6h-110.6zM-5.3 154.7h110.6v10.6h-110.6zM-5.3 164.7h100.6v10.6h-100.6zM-5.3 174.7h100.6v10.6h-100.6z"/><path fill="#0000cb" d="M64.7 -5.3h20.6v10.6h-20.6zM74.7 4.7h20.6v10.6h-20.6zM84.7 14.7h20.6v10.6h-20.6zM114.7 24.7h10.6v10.6h-10.6zM114.7 34.7h20.6v10.6h-20.6zM114.7 44.7h20.6v10.6h-20.6zM104.7 54.7h20.6v10.6h-20.6zM74.7 64.7h10.6v10.6h-10.6zM84.7 74.7h10.6v10.6h-10.6zM134.7 84.7h110.6v10.6h-110.6zM104.7 94.7h140.6v10.6h-140.6zM104.7 104.7h140.6v10.6h-140.6zM54.7 114.7h10.6v10.6h-10.6zM104.7 114.7h140.6v10.6h-140.6zM104.7 124.7h140.6v10.6h-140.6zM104.7 134.7h20.6v10.6h-20.6zM104.7 144.7h10.6v10.6h-10.6zM94.7 164.7h10.6v10.6h-10.6zM94.7 174.7h10.6v10.6h-10.6z"/><path fill="#0008ff" d="M84.7 -5.3h10.6v10.6h-10.6zM124.7 -5.3h30.6v10.6h-30.6zM54.7 4.7h10.6v10.6h-10.6zM94.7 4.7h10.6v10.6h-10.6zM114.7 4.7h40.6v10.6h-40.6zM114.7 14.7h40.6v10.6h-40.6zM174.7 14.7h70.6v10.6h-70.6zM134.7 24.7h110.6v10.6h-110.6zM134.7 34.7h110.6v10.6h-110.6zM134.7 44.7h110.6v10.6h-110.6zM124.7 54.7h120.6v10.6h-120.6zM104.7 64.7h20.6v10.6h-20.6zM134.7 64.7h110.6v10.6h-110.6zM94.7 74.7h10.6v10.6h-10.6zM114.7 74.7h10.6v10.6h-10.6zM134.7 74.7h110.6v10.6h-110.6zM84.7 84.7h10.6v10.6h-10.6zM104.7 84.7h20.6v10.6h-20.6zM94.7 94.7h10.6v10.6h-10.6zM124.7 134.7h120.6v10.6h-120.6zM114.7 144.7h130.6v10.6h-130.6z"/><path fill="#004dff" d="M114.7 -5.3h10.6v10.6h-10.6zM154.7 -5.3h10.6v10.6h-10.6zM104.7 4.7h10.6v10.6h-10.6zM154.7 4.7h90.6v10.6h-90.6zM104.7 14.7h10.6v10.6h-10.6zM154.7 14.7h20.6v10.6h-20.6zM84.7 54.7h10.6v10.6h-10.6zM94.7 64.7h10.6v10.6h-10.6zM124.7 64.7h10.6v10.6h-10.6zM104.7 74.7h10.6v10.6h-10.6zM124.7 74.7h10.6v10.6h-10.6zM94.7 84.7h10.6v10.6h-10.6zM124.7 84.7h10.6v10.6h-10.6z"/><path fill="#0090ff" d="M54.7 -5.3h10.6v10.6h-10.6zM124.7 24.7h10.6v10.6h-10.6zM94.7 54.7h10.6v10.6h-10.6zM74.7 74.7h10.6v10.6h-10.6zM84.7 94.7h10.6v10.6h-10.6z"/><path fill="#00d4ff" d="M94.7 -5.3h20.6v10.6h-20.6zM164.7 -5.3h10.6v10.6h-10.6zM84.7 64.7h10.6v10.6h-10.6z"/><path fill="#a2ff5e" d="M104.7 154.7h10.6v10.6h-10.6z"/><path fill="#ffd500" d="M174.7 -5.3h10.6v10.6h-10.6z"/><path fill="#ff9100" d="M184.7 -5.3h60.6v10.6h-60.6z"/><path fill="#ff4c00" d="M124.7 154.7h120.6v10.6h-120.6zM114.7 164.7h130.6v10.6h-130.6zM114.7 174.7h130.6v10.6h-130.6z"/><path fill="#ff0800" d="M114.7 154.7h10.6v10.6h-10.6z"/><path fill="#c30000" d="M104.7 164.7h10.6v10.6h-10.6zM104.7 174.7h10.6v10.6h-10.6z"/></g></g></g>
<g clip-path="url(#fc)"><use href="#st"/></g>
<text class="b tk" x="45.3" y="-19.7" text-anchor="middle">100<tspan class="dg" dx="2.6" dy="-10.2">o</tspan><tspan dx="1" dy="10.2"> W</tspan></text>
<text class="b tk" x="109.6" y="-19.7" text-anchor="middle">90<tspan class="dg" dx="2.6" dy="-10.2">o</tspan><tspan dx="1" dy="10.2"> W</tspan></text>
<text class="b tk" x="173.9" y="-19.7" text-anchor="middle">80<tspan class="dg" dx="2.6" dy="-10.2">o</tspan><tspan dx="1" dy="10.2"> W</tspan></text>
<text class="b tk" x="238.2" y="-19.7" text-anchor="middle">70<tspan class="dg" dx="2.6" dy="-10.2">o</tspan><tspan dx="1" dy="10.2"> W</tspan></text>
<text class="b tk" x="-10" y="218.3" text-anchor="end">22<tspan class="dg" dx="2.6" dy="-10.2">o</tspan><tspan dx="1" dy="10.2"> N</tspan></text>
<text class="b tk" x="-10" y="204.7" text-anchor="end">24<tspan class="dg" dx="2.6" dy="-10.2">o</tspan><tspan dx="1" dy="10.2"> N</tspan></text>
<text class="b tk" x="-10" y="191" text-anchor="end">26<tspan class="dg" dx="2.6" dy="-10.2">o</tspan><tspan dx="1" dy="10.2"> N</tspan></text>
<text class="b tk" x="-10" y="177" text-anchor="end">28<tspan class="dg" dx="2.6" dy="-10.2">o</tspan><tspan dx="1" dy="10.2"> N</tspan></text>
<text class="b tk" x="-10" y="162.7" text-anchor="end">30<tspan class="dg" dx="2.6" dy="-10.2">o</tspan><tspan dx="1" dy="10.2"> N</tspan></text>
<text class="b tk" x="-10" y="148.1" text-anchor="end">32<tspan class="dg" dx="2.6" dy="-10.2">o</tspan><tspan dx="1" dy="10.2"> N</tspan></text>
<text class="b tk" x="-10" y="133.3" text-anchor="end">34<tspan class="dg" dx="2.6" dy="-10.2">o</tspan><tspan dx="1" dy="10.2"> N</tspan></text>
<text class="b tk" x="-10" y="118" text-anchor="end">36<tspan class="dg" dx="2.6" dy="-10.2">o</tspan><tspan dx="1" dy="10.2"> N</tspan></text>
<text class="b tk" x="-10" y="102.4" text-anchor="end">38<tspan class="dg" dx="2.6" dy="-10.2">o</tspan><tspan dx="1" dy="10.2"> N</tspan></text>
<text class="b tk" x="-10" y="86.4" text-anchor="end">40<tspan class="dg" dx="2.6" dy="-10.2">o</tspan><tspan dx="1" dy="10.2"> N</tspan></text>
<text class="b tk" x="-10" y="69.8" text-anchor="end">42<tspan class="dg" dx="2.6" dy="-10.2">o</tspan><tspan dx="1" dy="10.2"> N</tspan></text>
<text class="b tk" x="-10" y="52.8" text-anchor="end">44<tspan class="dg" dx="2.6" dy="-10.2">o</tspan><tspan dx="1" dy="10.2"> N</tspan></text>
<text class="b tk" x="-10" y="35.1" text-anchor="end">46<tspan class="dg" dx="2.6" dy="-10.2">o</tspan><tspan dx="1" dy="10.2"> N</tspan></text>
<text class="b tk" x="-10" y="16.8" text-anchor="end">48<tspan class="dg" dx="2.6" dy="-10.2">o</tspan><tspan dx="1" dy="10.2"> N</tspan></text>
</g>
<rect x="862.4" y="93.2" width="23.3" height="219.2" fill="url(#jet)" stroke="#262626" stroke-width="0.8"/>
<path d="M885.7 119h-2.5" stroke="#262626" stroke-width="0.8"/>
<text class="b cb" x="894.1" y="126.8">40</text>
<path d="M885.7 167.3h-2.5" stroke="#262626" stroke-width="0.8"/>
<text class="b cb" x="894.1" y="175.1">30</text>
<path d="M885.7 215.5h-2.5" stroke="#262626" stroke-width="0.8"/>
<text class="b cb" x="894.1" y="223.3">20</text>
<path d="M885.7 264.4h-2.5" stroke="#262626" stroke-width="0.8"/>
<text class="b cb" x="894.1" y="272.2">10</text>
<path d="M885.7 312.4h-2.5" stroke="#262626" stroke-width="0.8"/>
<text class="b cb" x="894.1" y="320.2">0</text>
<text class="b pt" x="728.5" y="341.7" text-anchor="middle">SAT+RAP CAPE</text>
<g transform="translate(1037.5,95.3) scale(1.0030,1.0108)">
<rect x="0" y="0" width="234.3" height="212.9" fill="none" stroke="#000" stroke-width="1"/>
<g clip-path="url(#dc)"><g clip-path="url(#sw)"><path d="M88.5 29h0M158 35.9h0M173 13h0M108.9 146.4h0M162.5 51.9h0M126.3 126.4h0M151.7 3.6h0M96 152.2h0M152.9 8.5h0M149 53.8h0M168.1 6.8h0M181.9 6.6h0M91.9 152h0M113.5 171.3h0M161.7 6.3h0M183.2 2h0M113.6 148.3h0M181.3 14.1h0M-3.9 96h0M176.5 13.7h0M108.5 166.3h0M177.5 -1.8h0M167.5 11.7h0M177.6 8.7h0M143.1 11.2h0M56.8 123.4h0M106.5 153.5h0M128.5 132.9h0M113.3 168.9h0M183.4 -2.6h0M177.8 2h0M101.4 29h0M156.4 41.6h0M143 53.4h0M131.1 130.9h0M112.1 152.7h0M87.4 42.6h0M162.8 43h0" fill="none" stroke="#1affe5" stroke-width="7.1" stroke-linecap="round"/><path d="M143.6 76.1h0M152.6 82.9h0M85.9 86.5h0M117 77.9h0M122 83.6h0M133.7 157.7h0M141.1 107.6h0M148.9 87.1h0M77.9 116.8h0M123.3 43.6h0M132.3 114h0M77.1 101.2h0M132.4 82.3h0M87.9 83.1h0M108.1 58.8h0M127.7 2.2h0M108.8 98.7h0M108.8 68.3h0M127.3 58.2h0M117.9 16.3h0M123.7 107.6h0M92.9 93.1h0M82 78.3h0M83.9 83.2h0M153.3 98.4h0M87.8 101.6h0M117 103.8h0M128.7 161.4h0M112.7 81.6h0M126.4 93.4h0M153.6 76.5h0M112 23h0M73.6 112h0M113.9 71.3h0M136.4 73h0M153.1 86.4h0M118.1 21.8h0M92.8 88h0M91.8 101.2h0M133.6 26.7h0M113.5 93.4h0M127.3 158.7h0M32.2 111.4h0M106.3 13.4h0M92.6 157.7h0M76 78.4h0M177.2 22.9h0M98.1 86.6h0M138.8 103.8h0M128.1 107.8h0M137 66.7h0M160.9 66.7h0M82.9 123.2h0M134 73.2h0M132 163.3h0M142.1 97.3h0M127.7 31h0M141.4 71.4h0M142.7 92.3h0M32.6 121.4h0M128.2 6h0M34 107.3h0M87.9 76.7h0M133.7 -1.1h0M128.9 103.1h0M86.3 161.5h0M91.6 98.7h0M132.4 2.2h0M128.2 98h0M79.1 81.5h0M77.1 97.7h0M41.8 112.1h0M146.8 92.7h0M102.9 107.4h0M92.7 161.3h0M134 11.2h0M138 77.1h0M129.1 26.8h0M153 93.7h0M81.9 86.9h0M116.6 113h0M156 66.7h0M131.1 96.4h0M112.3 6.6h0M117.7 81.3h0M123.1 71.7h0M88.8 92.9h0M127 68h0M107.7 103h0M127 111.7h0M126.8 81.7h0M113 102.2h0M112.4 18.1h0M107.7 86.7h0M131.5 75.9h0M123.5 77.4h0M91.2 81.9h0M116.9 26.3h0M127.1 76.7h0M123.2 37.3h0M8.7 112.3h0M146.1 97.9h0M116.4 99h0M151.6 74h0M117.7 71.9h0M79 106.1h0M109 17.5h0M158.8 63.3h0M137.1 97.1h0M145.9 73.6h0M181.2 26.2h0M87.1 157.8h0M83.4 101.4h0M28.6 106.3h0M112.2 86.9h0M182.1 33.4h0M68.3 106.3h0M18.6 107h0M91.1 76.1h0M107.2 6.9h0M133 31.1h0M113 12.1h0M138.8 108.5h0M81.2 118.6h0M144.1 88.6h0M121.6 96h0M71.7 107.7h0M142.9 112.1h0M151.8 68.7h0M108.5 82.9h0M78.4 113.7h0M117.2 42.9h0M98.3 106.7h0M141.7 69h0M158.1 72.8h0M116.9 33.9h0M111.8 58.9h0M132.8 89.1h0M163.6 73h0M152.3 102h0M132.3 6h0M109 79h0M26.7 111.7h0M48.6 113.7h0M131.9 56.6h0M113 67.1h0M79.1 121.8h0M81.7 108.6h0M122.6 68.7h0M82.6 91.1h0M66 113.1h0M101 111.3h0M178.7 32.7h0M128.5 72.9h0M102.1 93.5h0M132.5 66.8h0M138.9 111.7h0M128 -1.7h0M131.2 92.4h0M136.3 92.4h0M148.4 81.6h0M123.6 101.1h0M116.2 36.2h0" fill="none" stroke="#ff9100" stroke-width="7.1" stroke-linecap="round"/><path d="M1.4 62h0M52.5 15.9h0M42.4 13.9h0M47.4 17.5h0M51.2 8.3h0" fill="none" stroke="#0000cb" stroke-width="7.1" stroke-linecap="round"/><path d="M88.4 36.2h0M93.7 44.1h0M87.5 148.3h0M174.1 6h0M89 152.5h0M78.5 43.4h0M87.8 30.9h0M138 44.1h0M146.5 41.1h0M106.3 157.5h0M101.6 33.8h0M93.3 146.7h0M151.5 42.8h0M151.1 37.8h0M97.9 148.9h0M93.9 33.5h0M77.3 37.5h0M193.7 7.3h0M113.6 158.9h0M93.2 28.8h0M113.1 162.6h0M101.5 152.9h0M81.5 38.5h0M81.9 41.9h0M147.1 38.7h0M109 162.5h0" fill="none" stroke="#00d4ff" stroke-width="7.1" stroke-linecap="round"/><path d="M116.3 171h0M87 97.6h0M32.5 153.1h0M28.9 152.3h0M108 93.9h0M161.6 56h0M166.7 53.4h0M16 118h0M23.4 113.9h0M13.3 106.5h0M16.9 138.2h0M16.4 112.5h0M61.7 152.9h0M23.1 116.8h0M94 111h0M92.9 121.3h0M131.4 151.1h0M6.1 117.3h0M46.6 107.7h0M166.1 18h0M122 11.5h0M76.6 87.5h0M21.2 107.4h0M43.9 153.5h0M16 151.9h0M171.4 19h0M116.4 12.3h0M116.3 7.4h0M102.4 88.3h0M39 106.4h0M28.3 149.1h0M18.8 148.7h0M21.1 143.7h0M131.3 62.9h0M8.4 123.9h0M166.5 33.9h0M167.3 28.2h0M116.5 157.4h0M98.7 92.2h0M146.9 66.8h0M142.9 80.9h0M126.5 153.2h0M107.3 72.6h0M53.3 111.5h0M114 77.4h0M131.8 16.1h0M162.4 61.3h0M132.7 143.9h0M23.1 149h0M103.2 102.5h0M37.3 113.4h0M52.6 106.6h0M18.9 122.9h0M165.9 36.9h0M122.8 -3.3h0M158.2 57.1h0M13.5 123.7h0M177.2 18.7h0M12.2 111.4h0M171 33h0M46.4 152h0M38.4 152.5h0M17 142.3h0M148 76.7h0M102 99.1h0M181.6 16.2h0M122.9 28.1h0M83.9 139.1h0M87.3 106h0M127.9 12.5h0M81.9 133.1h0M148.9 102.1h0M122.5 19h0M126.1 63.8h0M96 101h0M122.4 22.4h0M126.9 16.2h0M47.3 162.7h0M42.3 107.5h0M77.3 144.1h0M166.9 23.4h0M76.6 138.6h0M22 153.8h0M171.5 36.9h0M11 116.3h0M143.8 103.5h0M172.3 21h0M137.9 87.3h0M41.6 148.1h0M182.5 23.8h0M31.6 147.6h0M57.4 148.2h0M106.2 62.5h0M86.4 123.6h0M91.3 117.2h0M86.2 117.2h0M86.4 111.9h0M53.8 156.4h0M22.6 122.3h0M177.1 27h0M37.9 147.5h0M51.5 161.2h0M153.1 58.3h0M129.1 24.1h0M107.9 23h0M97.3 112h0" fill="none" stroke="#ffd500" stroke-width="7.1" stroke-linecap="round"/><path d="M93.3 138.3h0M44 19h0M56.1 27.5h0M58.3 32.3h0M67.5 67.7h0M52.4 51.4h0M62.7 27.3h0M47.7 -2.3h0M72.7 13.4h0M61.7 31.5h0M86.9 142.1h0M67.2 56.7h0M42 20.9h0M52.9 2.5h0M48.5 11.6h0M38 12.9h0M6.3 7.1h0M7.9 11.2h0M12.2 1.7h0M36.4 17.3h0M53 31.3h0M82.4 47.7h0M46 8.5h0M117.2 126.2h0M6.9 -3.6h0M71.4 -2.5h0M36.7 24h0M2.6 58.6h0M51.7 28.3h0M93.9 13.6h0M11.1 -2.4h0M46.2 3.2h0M83.2 53.8h0M36.2 6.4h0M16.1 -2.3h0M46.4 27.2h0M58 18.2h0M102.1 1.6h0M13.3 61.6h0M122.3 143.3h0M62.1 16.9h0M51.2 -2.3h0M48.2 62.3h0M87.3 56.6h0M77.3 21.1h0M-1.9 58.8h0M62.1 -3.3h0M11.9 59h0M61 23.6h0M118.2 141h0M-2.9 62.1h0M41 7.8h0M73.4 6.4h0M51.8 11.7h0M13.2 12.4h0M21.3 2.2h0M56.4 23.2h0M8.9 63.8h0M122.9 136.5h0M78.1 16.6h0M11.5 8.7h0M61.7 63.8h0M16.1 1.6h0M52.9 57.4h0M47.2 31.7h0M73.9 66.6h0" fill="none" stroke="#0008ff" stroke-width="7.1" stroke-linecap="round"/><path d="M58.5 86.2h0M63.3 86.4h0M52.4 118.5h0M47.6 131.2h0M96.7 156.2h0M52 128.9h0M42.5 143.4h0M148.1 56h0M38.7 118.8h0M42.7 127.5h0M156.9 3h0M23 91h0M11 67.6h0M1.6 76.5h0M163 28.9h0M11.3 99h0M118.6 146.7h0M138.5 11.7h0M62.4 101.2h0M73.1 128.5h0M138.4 52.5h0M103.6 163.1h0M101.7 157.5h0M42.6 132.6h0M-3.1 82.9h0M52.2 132.7h0M73 121.3h0M41.6 122.1h0M73.5 131.6h0M58.2 99h0M36.9 101.8h0M116.5 57.1h0M67.6 118.6h0M57.8 106.5h0M68.1 123.9h0M61.1 97.2h0M11.1 87.4h0M38.4 132.6h0M18.2 100.9h0M39 137.5h0M23.3 69h0M41.8 118.3h0M62 93.4h0M36.8 122.4h0M36.6 141.9h0M47.1 127h0M78.2 133.1h0M-2.5 91.6h0M73.3 117.6h0M122.1 58.6h0M143 46h0M41.7 137.1h0M119 63.6h0M138.7 28h0M147 -2.9h0M3 91.3h0M52.2 141.1h0" fill="none" stroke="#a2ff5e" stroke-width="7.1" stroke-linecap="round"/><path d="M42.2 51h0M61.3 11.4h0M91.1 62.9h0M68.7 8.4h0M72.8 38.5h0M72.8 23.8h0M93.4 141.6h0M82.9 19h0M88.1 136.2h0M72.5 63h0M112.9 138.7h0M139.1 -2.7h0M81.9 157h0M63.5 36.1h0M52.9 41.7h0M138.9 2.9h0M143.8 22.5h0M82.5 7.7h0M46.9 43.3h0M98.2 4.1h0M71.3 17.6h0M81 152.4h0M83.3 62.4h0M37.9 57.2h0M116.8 133h0M68.3 2.7h0M76.7 6.8h0M98.8 136.1h0M77.1 51.3h0M67.5 74.1h0M88 46.9h0M72.8 161.9h0M41.9 62.6h0M76 161.5h0M82.5 12.5h0M62.5 53.5h0M88 51.9h0M67.9 18.2h0M116.7 138.6h0M88.9 63.9h0M71.8 33.3h0M66.4 61.5h0M57.6 13.5h0M87.3 7.6h0M66.5 46.3h0M92.4 48.6h0M68.6 151.3h0M92.1 52.1h0M73.8 52.9h0M44.1 48h0M71.5 26h0M78.9 157.4h0M108.6 137.4h0M73.7 159h0M77.7 151.8h0M76.1 3.1h0M88.9 11.7h0M76.9 146.3h0M82.3 161.2h0M66.2 53.2h0M93 56.3h0M56.7 55.9h0M6.5 58.3h0M51.5 37.6h0M78.8 12.3h0M67.4 159h0M58.4 -2.6h0M77.9 47.9h0M67.7 11.9h0M6.1 2.5h0M106.5 142.1h0M68.9 36.9h0M52.2 48.9h0M41.1 57.5h0M48.5 36.2h0M68.3 146.4h0M84 146.4h0M101.3 -2.7h0M103.5 138.3h0M38 47.2h0M124.1 132.7h0M48.5 48h0M71.9 3.1h0M86.6 1.8h0M93.9 8.1h0M72.8 147.4h0M92.2 3.8h0M36 61.1h0M96.4 -2.8h0M62 2.3h0M66.9 27.1h0M22.9 -2.2h0M98.2 141.2h0M121.5 127.5h0M74 42.1h0M63.3 46.4h0M77.8 -2.6h0M56.1 42.8h0M84.1 3.5h0M36.1 53.3h0M103.5 142.2h0M67.1 33.3h0M76.5 56.9h0M57.2 37.1h0M70.9 57.7h0M57.3 63.9h0M81.1 58.7h0M68.6 23.5h0M83.9 -2.6h0M62.7 57h0M53.7 63.4h0M63.8 8h0M78.2 60.9h0M92 -2.1h0M56.2 1.9h0M82.5 20.9h0" fill="none" stroke="#004dff" stroke-width="7.1" stroke-linecap="round"/><path d="M56.4 51.4h0M192 3h0M168.3 1.5h0M93.3 36.7h0M47.2 56.9h0M141.2 -2.3h0M74 47.4h0M142.9 1.4h0M113.1 143.8h0M86.7 21.1h0M188.6 5.9h0M172.2 3.5h0M96.2 33.4h0M66.1 43.5h0M146.3 22h0M46.4 51.3h0M72.1 151.6h0M83 32.3h0M188.7 13h0M71.2 71.9h0M93.2 21.6h0M186.2 -3.8h0M88.3 17.5h0M166.6 -2.4h0M187.9 0.9h0M143.7 41.6h0M136.4 17.6h0M82.6 28.4h0M76.2 33.8h0M77.7 27.1h0M67.9 163.5h0M138.7 23.2h0M87.1 -2h0M172.9 -2.1h0M148.3 27.5h0M66.1 -2.5h0M152 22.2h0M146.6 31.6h0M191.7 11.8h0M153.2 17.2h0M101.7 146.7h0M141.3 18.5h0M142.5 36.6h0M136.9 37.2h0M151.8 33.9h0M148.9 18.1h0M192 -2.6h0M62 44h0M58 48.8h0M99 26.7h0M93 16.1h0M154 26.9h0M56.7 7.2h0" fill="none" stroke="#0090ff" stroke-width="7.1" stroke-linecap="round"/><path d="M21.4 136.8h0M41.6 97.3h0M27.6 128.5h0M127.6 143.9h0M29 137.3h0M68.5 127.5h0M126.4 147.3h0M174 52.3h0M58.9 102.8h0M41.8 101.4h0M49.1 96.4h0M31.7 131.9h0M31.7 136h0M32.1 126.6h0M126.5 41.7h0M28.6 141.9h0M46.5 146.4h0M77.2 126.1h0M47.5 102.6h0M81.2 127.7h0M122.3 168.6h0M52.5 102.1h0M132.7 37.1h0M27 134h0M68.4 137.7h0M121.6 161.9h0M132.7 136.6h0M168.4 42.7h0M126.3 38.6h0M121.3 3.6h0M51.7 146.7h0M143.1 31.5h0M117.1 160.9h0M37.1 97.1h0M133.8 23.9h0M131.2 146h0M48.7 156.1h0M171.3 26.2h0M136 32h0M121.5 172.7h0M146.5 64h0M167.2 47.9h0M143 28.9h0M66.6 142.2h0M131.4 43.7h0M91.3 106.7h0M68.7 132.2h0M7.4 107.9h0M127.7 137.9h0M56.3 153.2h0M72.8 141.9h0M123.4 156.1h0M61.3 148h0M53.5 97.7h0M153 63.7h0M121.2 8.7h0M117.6 2.9h0M82.2 142.5h0M51.3 153.1h0M173.4 43h0M118.1 166.7h0M57.2 91.3h0M171.9 47.1h0M97.8 97.8h0M73.4 136.7h0M33.5 141.9h0M38.8 129h0M116.6 -3.4h0" fill="none" stroke="#e5ff1a" stroke-width="7.1" stroke-linecap="round"/><path d="M26.8 116.9h0M117.5 106.8h0M121.7 33.4h0M138.8 83.4h0M128.1 87.2h0M122.2 113.9h0M82.6 96.4h0M132.8 103.3h0M131 109h0M83.8 111.8h0M118.1 67.8h0M113.9 98.2h0M27.5 121.8h0M113.6 61.5h0M77.9 93.4h0M31.3 117.8h0" fill="none" stroke="#ff4c00" stroke-width="7.1" stroke-linecap="round"/><path d="M162.6 11.6h0M122.4 62.6h0M11.8 103.3h0M162.2 33.2h0M18.1 91.5h0M1.9 103.9h0M8.2 72.6h0M151.5 49h0M46.6 122.5h0M57 132.6h0M6.8 68.3h0M61.4 131.9h0M8 83.7h0M141.3 7.3h0M134.1 122.1h0M158.7 21.1h0M11.9 80.9h0M67.4 102.8h0M46.3 142.6h0M152 12.7h0M22.4 81.6h0M3.4 72.8h0M13.7 71.2h0M16.5 82h0M163.2 37h0M128.5 53.6h0M132.2 51.1h0M74 93.7h0M156.8 6.3h0M-1.3 78h0M162.6 3.8h0M6.6 86.3h0M128.1 116.8h0M132 117.6h0M13.3 91.4h0M-3.9 73.3h0M7.4 96.4h0M57 111.8h0M136 8.4h0M71.7 86.1h0M24 72.8h0M163.3 23.6h0M62 137.3h0M71.5 101.5h0M156.1 31h0M163.5 46.4h0M58.7 129h0M2.7 87.9h0M117.5 151.4h0M16.2 73.1h0M54 136.8h0M58.7 116.7h0M2.1 96.9h0M6.4 78.6h0M62.5 116.8h0M6.7 91.4h0M106 172.8h0M1.7 67h0M22.4 87.3h0M156.5 13.9h0M57.7 137.1h0M126.5 45.9h0M46.5 137h0M123.8 148.9h0M68.8 86.8h0M156.5 26.6h0M61.3 141.5h0M147.3 6.1h0M149.1 48.2h0M154.1 -2.6h0M11 78.6h0M62.3 127.9h0M68.4 96.6h0M132.4 47.3h0M16.4 65.9h0M1.7 82.2h0M47.1 118.8h0M146.1 13.7h0M7.4 103.4h0M96.6 162.7h0M156.4 48.8h0M21.6 78.2h0M67 92.5h0M128 120.9h0M-1 103.6h0M18.8 76.2h0M163.1 -1.2h0M156.6 -1.1h0M151.1 52h0M137.1 48.5h0M156.5 15.9h0M-1 86.2h0M18.1 87.5h0M-2 66.8h0M22.8 104h0M63.6 108.8h0M63.9 111.2h0M16.8 97.9h0M146.2 1.2h0M161.7 16.1h0M62.8 122h0M158.8 51.6h0M73.8 98.7h0M52.8 120.9h0M23.5 97.8h0M122.8 151.2h0M56 143.5h0M131.2 126.2h0" fill="none" stroke="#5effa2" stroke-width="7.1" stroke-linecap="round"/><path d="M51.9 22.9h0M46.2 22.2h0" fill="none" stroke="#00008f" stroke-width="7.1" stroke-linecap="round"/><path d="M36 9h0M44 14h0" fill="none" stroke="#0008ff" stroke-width="7.2" stroke-linecap="round"/><path d="M48.5 6h0" fill="none" stroke="#ff4c00" stroke-width="7.2" stroke-linecap="round"/><path d="M38.5 1.4h0M31.8 10h0M55.2 13.4h0M58.5 25.4h0M40.5 34h0" fill="none" stroke="#ff0800" stroke-width="7.2" stroke-linecap="round"/></g></g>
<g clip-path="url(#fc)"><use href="#st"/></g>
<text class="b tk" x="47.1" y="-19.7" text-anchor="middle">100<tspan class="dg" dx="2.6" dy="-10.2">o</tspan><tspan dx="1" dy="10.2"> W</tspan></text>
<text class="b tk" x="110.7" y="-19.7" text-anchor="middle">90<tspan class="dg" dx="2.6" dy="-10.2">o</tspan><tspan dx="1" dy="10.2"> W</tspan></text>
<text class="b tk" x="174.3" y="-19.7" text-anchor="middle">80<tspan class="dg" dx="2.6" dy="-10.2">o</tspan><tspan dx="1" dy="10.2"> W</tspan></text>
<text class="b tk" x="237.9" y="-19.7" text-anchor="middle">70<tspan class="dg" dx="2.6" dy="-10.2">o</tspan><tspan dx="1" dy="10.2"> W</tspan></text>
<text class="b tk" x="-10" y="218.9" text-anchor="end">22<tspan class="dg" dx="2.6" dy="-10.2">o</tspan><tspan dx="1" dy="10.2"> N</tspan></text>
<text class="b tk" x="-10" y="205.3" text-anchor="end">24<tspan class="dg" dx="2.6" dy="-10.2">o</tspan><tspan dx="1" dy="10.2"> N</tspan></text>
<text class="b tk" x="-10" y="191.6" text-anchor="end">26<tspan class="dg" dx="2.6" dy="-10.2">o</tspan><tspan dx="1" dy="10.2"> N</tspan></text>
<text class="b tk" x="-10" y="177.6" text-anchor="end">28<tspan class="dg" dx="2.6" dy="-10.2">o</tspan><tspan dx="1" dy="10.2"> N</tspan></text>
<text class="b tk" x="-10" y="163.3" text-anchor="end">30<tspan class="dg" dx="2.6" dy="-10.2">o</tspan><tspan dx="1" dy="10.2"> N</tspan></text>
<text class="b tk" x="-10" y="148.7" text-anchor="end">32<tspan class="dg" dx="2.6" dy="-10.2">o</tspan><tspan dx="1" dy="10.2"> N</tspan></text>
<text class="b tk" x="-10" y="133.9" text-anchor="end">34<tspan class="dg" dx="2.6" dy="-10.2">o</tspan><tspan dx="1" dy="10.2"> N</tspan></text>
<text class="b tk" x="-10" y="118.6" text-anchor="end">36<tspan class="dg" dx="2.6" dy="-10.2">o</tspan><tspan dx="1" dy="10.2"> N</tspan></text>
<text class="b tk" x="-10" y="103" text-anchor="end">38<tspan class="dg" dx="2.6" dy="-10.2">o</tspan><tspan dx="1" dy="10.2"> N</tspan></text>
<text class="b tk" x="-10" y="87" text-anchor="end">40<tspan class="dg" dx="2.6" dy="-10.2">o</tspan><tspan dx="1" dy="10.2"> N</tspan></text>
<text class="b tk" x="-10" y="70.4" text-anchor="end">42<tspan class="dg" dx="2.6" dy="-10.2">o</tspan><tspan dx="1" dy="10.2"> N</tspan></text>
<text class="b tk" x="-10" y="53.4" text-anchor="end">44<tspan class="dg" dx="2.6" dy="-10.2">o</tspan><tspan dx="1" dy="10.2"> N</tspan></text>
<text class="b tk" x="-10" y="35.7" text-anchor="end">46<tspan class="dg" dx="2.6" dy="-10.2">o</tspan><tspan dx="1" dy="10.2"> N</tspan></text>
<text class="b tk" x="-10" y="17.4" text-anchor="end">48<tspan class="dg" dx="2.6" dy="-10.2">o</tspan><tspan dx="1" dy="10.2"> N</tspan></text>
</g>
<rect x="1285.3" y="93.4" width="23.5" height="219.1" fill="url(#jet)" stroke="#262626" stroke-width="0.8"/>
<path d="M1308.8 93.5h-2.5" stroke="#262626" stroke-width="0.8"/>
<text class="b cb" x="1317.2" y="101.3">1000</text>
<path d="M1308.8 142.3h-2.5" stroke="#262626" stroke-width="0.8"/>
<text class="b cb" x="1317.2" y="150.1">800</text>
<path d="M1308.8 190.7h-2.5" stroke="#262626" stroke-width="0.8"/>
<text class="b cb" x="1317.2" y="198.5">600</text>
<path d="M1308.8 239.2h-2.5" stroke="#262626" stroke-width="0.8"/>
<text class="b cb" x="1317.2" y="247">400</text>
<path d="M1308.8 287.5h-2.5" stroke="#262626" stroke-width="0.8"/>
<text class="b cb" x="1317.2" y="295.3">200</text>
<text class="b pt" x="1150" y="341.7" text-anchor="middle">Cloud Press (hPa)</text>
<g transform="translate(195.3,486.4) scale(1.0000,1.0000)">
<rect x="0" y="0" width="234.3" height="212.9" fill="none" stroke="#000" stroke-width="1"/>
<g clip-path="url(#dc)"><g clip-path="url(#sw)"><g mask="url(#mk3)"><rect x="-6" y="-6" width="250" height="190" fill="#1affe5"/><g filter="url(#bl3)"><path fill="#0000cb" d="M94.7 94.7h10.6v10.6h-10.6z"/><path fill="#0008ff" d="M134.7 44.7h10.6v10.6h-10.6zM134.7 54.7h10.6v10.6h-10.6zM114.7 64.7h130.6v10.6h-130.6zM94.7 74.7h10.6v10.6h-10.6zM134.7 74.7h110.6v10.6h-110.6zM84.7 84.7h20.6v10.6h-20.6zM134.7 84.7h110.6v10.6h-110.6zM74.7 94.7h20.6v10.6h-20.6zM104.7 94.7h10.6v10.6h-10.6zM134.7 94.7h110.6v10.6h-110.6z"/><path fill="#004dff" d="M104.7 -5.3h140.6v10.6h-140.6zM104.7 4.7h10.6v10.6h-10.6zM154.7 24.7h90.6v10.6h-90.6zM154.7 34.7h90.6v10.6h-90.6zM154.7 44.7h90.6v10.6h-90.6zM114.7 54.7h20.6v10.6h-20.6zM154.7 54.7h90.6v10.6h-90.6zM84.7 74.7h10.6v10.6h-10.6zM104.7 74.7h10.6v10.6h-10.6zM124.7 74.7h10.6v10.6h-10.6zM74.7 84.7h10.6v10.6h-10.6zM104.7 84.7h10.6v10.6h-10.6zM124.7 84.7h10.6v10.6h-10.6zM64.7 94.7h10.6v10.6h-10.6zM124.7 94.7h10.6v10.6h-10.6zM64.7 104.7h20.6v10.6h-20.6zM64.7 114.7h10.6v10.6h-10.6zM14.7 144.7h10.6v10.6h-10.6zM14.7 154.7h10.6v10.6h-10.6zM14.7 164.7h10.6v10.6h-10.6z"/><path fill="#0090ff" d="M94.7 -5.3h10.6v10.6h-10.6zM114.7 4.7h130.6v10.6h-130.6zM114.7 24.7h40.6v10.6h-40.6zM144.7 34.7h10.6v10.6h-10.6zM144.7 44.7h10.6v10.6h-10.6zM144.7 54.7h10.6v10.6h-10.6zM104.7 64.7h10.6v10.6h-10.6zM74.7 74.7h10.6v10.6h-10.6zM114.7 74.7h10.6v10.6h-10.6zM64.7 84.7h10.6v10.6h-10.6zM114.7 94.7h10.6v10.6h-10.6zM24.7 104.7h10.6v10.6h-10.6zM54.7 104.7h10.6v10.6h-10.6zM104.7 104.7h10.6v10.6h-10.6zM124.7 104.7h120.6v10.6h-120.6zM54.7 114.7h10.6v10.6h-10.6zM74.7 114.7h10.6v10.6h-10.6zM104.7 114.7h10.6v10.6h-10.6zM44.7 124.7h10.6v10.6h-10.6zM104.7 124.7h20.6v10.6h-20.6zM24.7 134.7h20.6v10.6h-20.6zM104.7 134.7h140.6v10.6h-140.6zM34.7 144.7h20.6v10.6h-20.6zM34.7 154.7h10.6v10.6h-10.6zM34.7 164.7h10.6v10.6h-10.6z"/><path fill="#00d4ff" d="M104.7 14.7h10.6v10.6h-10.6zM104.7 54.7h10.6v10.6h-10.6zM64.7 74.7h10.6v10.6h-10.6zM114.7 84.7h10.6v10.6h-10.6zM34.7 94.7h10.6v10.6h-10.6zM-5.3 104.7h30.6v10.6h-30.6zM84.7 104.7h20.6v10.6h-20.6zM114.7 104.7h10.6v10.6h-10.6zM-5.3 114.7h10.6v10.6h-10.6zM44.7 114.7h10.6v10.6h-10.6zM84.7 114.7h20.6v10.6h-20.6zM114.7 114.7h130.6v10.6h-130.6zM34.7 124.7h10.6v10.6h-10.6zM54.7 124.7h10.6v10.6h-10.6zM84.7 124.7h20.6v10.6h-20.6zM124.7 124.7h120.6v10.6h-120.6zM44.7 134.7h20.6v10.6h-20.6zM84.7 134.7h20.6v10.6h-20.6zM4.7 144.7h10.6v10.6h-10.6zM24.7 144.7h10.6v10.6h-10.6zM54.7 144.7h10.6v10.6h-10.6zM84.7 144.7h10.6v10.6h-10.6zM4.7 154.7h10.6v10.6h-10.6zM24.7 154.7h10.6v10.6h-10.6zM84.7 154.7h10.6v10.6h-10.6zM4.7 164.7h10.6v10.6h-10.6zM24.7 164.7h10.6v10.6h-10.6zM84.7 164.7h10.6v10.6h-10.6z"/><path fill="#1affe5" d="M84.7 -5.3h10.6v10.6h-10.6zM94.7 4.7h10.6v10.6h-10.6zM4.7 34.7h10.6v10.6h-10.6zM4.7 44.7h10.6v10.6h-10.6zM4.7 54.7h20.6v10.6h-20.6zM4.7 64.7h20.6v10.6h-20.6zM-5.3 74.7h10.6v10.6h-10.6zM14.7 74.7h20.6v10.6h-20.6zM-5.3 84.7h20.6v10.6h-20.6zM24.7 84.7h10.6v10.6h-10.6zM-5.3 94.7h10.6v10.6h-10.6zM14.7 94.7h20.6v10.6h-20.6zM54.7 94.7h10.6v10.6h-10.6zM34.7 104.7h10.6v10.6h-10.6zM4.7 114.7h30.6v10.6h-30.6zM-5.3 124.7h10.6v10.6h-10.6zM64.7 124.7h10.6v10.6h-10.6zM-5.3 134.7h30.6v10.6h-30.6zM64.7 134.7h10.6v10.6h-10.6zM64.7 144.7h10.6v10.6h-10.6zM44.7 154.7h20.6v10.6h-20.6zM44.7 164.7h20.6v10.6h-20.6z"/><path fill="#5effa2" d="M-5.3 -5.3h30.6v10.6h-30.6zM-5.3 4.7h30.6v10.6h-30.6zM84.7 4.7h10.6v10.6h-10.6zM-5.3 14.7h30.6v10.6h-30.6zM94.7 14.7h10.6v10.6h-10.6zM114.7 14.7h130.6v10.6h-130.6zM-5.3 24.7h40.6v10.6h-40.6zM-5.3 34.7h10.6v10.6h-10.6zM14.7 34.7h20.6v10.6h-20.6zM-5.3 44.7h10.6v10.6h-10.6zM14.7 44.7h30.6v10.6h-30.6zM114.7 44.7h20.6v10.6h-20.6zM-5.3 54.7h10.6v10.6h-10.6zM24.7 54.7h30.6v10.6h-30.6zM-5.3 64.7h10.6v10.6h-10.6zM24.7 64.7h40.6v10.6h-40.6zM94.7 64.7h10.6v10.6h-10.6zM4.7 74.7h10.6v10.6h-10.6zM34.7 74.7h20.6v10.6h-20.6zM14.7 84.7h10.6v10.6h-10.6zM34.7 84.7h10.6v10.6h-10.6zM4.7 94.7h10.6v10.6h-10.6zM34.7 114.7h10.6v10.6h-10.6zM4.7 124.7h30.6v10.6h-30.6zM74.7 124.7h10.6v10.6h-10.6zM74.7 134.7h10.6v10.6h-10.6zM74.7 144.7h10.6v10.6h-10.6zM64.7 154.7h20.6v10.6h-20.6zM64.7 164.7h20.6v10.6h-20.6z"/><path fill="#a2ff5e" d="M24.7 -5.3h20.6v10.6h-20.6zM24.7 4.7h20.6v10.6h-20.6zM74.7 4.7h10.6v10.6h-10.6zM24.7 14.7h20.6v10.6h-20.6zM74.7 14.7h20.6v10.6h-20.6zM34.7 24.7h20.6v10.6h-20.6zM84.7 24.7h10.6v10.6h-10.6zM34.7 34.7h20.6v10.6h-20.6zM114.7 34.7h30.6v10.6h-30.6zM44.7 44.7h20.6v10.6h-20.6zM54.7 54.7h20.6v10.6h-20.6zM64.7 64.7h30.6v10.6h-30.6zM54.7 74.7h10.6v10.6h-10.6zM44.7 84.7h20.6v10.6h-20.6zM44.7 94.7h10.6v10.6h-10.6zM44.7 104.7h10.6v10.6h-10.6zM-5.3 144.7h10.6v10.6h-10.6zM94.7 144.7h150.6v10.6h-150.6zM-5.3 154.7h10.6v10.6h-10.6zM94.7 154.7h150.6v10.6h-150.6zM-5.3 164.7h10.6v10.6h-10.6zM94.7 164.7h150.6v10.6h-150.6z"/><path fill="#e5ff1a" d="M44.7 -5.3h10.6v10.6h-10.6zM74.7 -5.3h10.6v10.6h-10.6zM44.7 4.7h10.6v10.6h-10.6zM64.7 4.7h10.6v10.6h-10.6zM44.7 14.7h10.6v10.6h-10.6zM64.7 14.7h10.6v10.6h-10.6zM54.7 24.7h30.6v10.6h-30.6zM104.7 24.7h10.6v10.6h-10.6zM54.7 34.7h60.6v10.6h-60.6zM64.7 44.7h10.6v10.6h-10.6zM84.7 44.7h30.6v10.6h-30.6zM74.7 54.7h30.6v10.6h-30.6z"/><path fill="#ffd500" d="M54.7 -5.3h10.6v10.6h-10.6zM54.7 4.7h10.6v10.6h-10.6zM54.7 14.7h10.6v10.6h-10.6zM94.7 24.7h10.6v10.6h-10.6zM74.7 44.7h10.6v10.6h-10.6z"/><path fill="#ff9100" d="M64.7 -5.3h10.6v10.6h-10.6z"/></g></g></g><path d="M113.2 168.7h0M119.7 167.6h0" fill="none" stroke="#00008f" stroke-width="7.2" stroke-linecap="round"/><path d="M170.4 17.3h0M177.1 19.3h0M167.1 22.6h0M173.7 23.9h0M168.4 29.3h0M173.7 30.6h0M173.1 37.3h0M171.1 40.6h0" fill="none" stroke="#0008ff" stroke-width="7.2" stroke-linecap="round"/><path d="M164.4 16.6h0M161.7 19.9h0M177.7 22.6h0M169.7 35.9h0M167.7 46.6h0M131.9 24.3h0M135.8 23.3h0" fill="none" stroke="#004dff" stroke-width="7.2" stroke-linecap="round"/><path d="M126.1 33.5h0M126.6 37.4h0M126.1 41.3h0M125.6 45.2h0M125.1 48.1h0" fill="none" stroke="#1affe5" stroke-width="7.2" stroke-linecap="round"/><path d="M62.4 34.6h0M61.7 41.3h0M60.4 47.9h0M72.4 25.9h0M73.1 31.3h0M85.1 17.9h0M87.1 23.3h0M79.7 55.3h0" fill="none" stroke="#fff" stroke-width="3" stroke-linecap="round"/><path d="M40.4 129.5L40.4 136M72.6 132.3L59.5 140L50.7 148.7L51.8 156.5" fill="none" stroke="#fff" stroke-width="6.6" stroke-linecap="round" stroke-linejoin="round"/></g>
<g clip-path="url(#fc)"><use href="#st"/></g>
<text class="b tk" x="45.3" y="-19.7" text-anchor="middle">100<tspan class="dg" dx="2.6" dy="-10.2">o</tspan><tspan dx="1" dy="10.2"> W</tspan></text>
<text class="b tk" x="109.6" y="-19.7" text-anchor="middle">90<tspan class="dg" dx="2.6" dy="-10.2">o</tspan><tspan dx="1" dy="10.2"> W</tspan></text>
<text class="b tk" x="173.9" y="-19.7" text-anchor="middle">80<tspan class="dg" dx="2.6" dy="-10.2">o</tspan><tspan dx="1" dy="10.2"> W</tspan></text>
<text class="b tk" x="238.2" y="-19.7" text-anchor="middle">70<tspan class="dg" dx="2.6" dy="-10.2">o</tspan><tspan dx="1" dy="10.2"> W</tspan></text>
<text class="b tk" x="-10" y="218.3" text-anchor="end">22<tspan class="dg" dx="2.6" dy="-10.2">o</tspan><tspan dx="1" dy="10.2"> N</tspan></text>
<text class="b tk" x="-10" y="204.7" text-anchor="end">24<tspan class="dg" dx="2.6" dy="-10.2">o</tspan><tspan dx="1" dy="10.2"> N</tspan></text>
<text class="b tk" x="-10" y="191" text-anchor="end">26<tspan class="dg" dx="2.6" dy="-10.2">o</tspan><tspan dx="1" dy="10.2"> N</tspan></text>
<text class="b tk" x="-10" y="177" text-anchor="end">28<tspan class="dg" dx="2.6" dy="-10.2">o</tspan><tspan dx="1" dy="10.2"> N</tspan></text>
<text class="b tk" x="-10" y="162.7" text-anchor="end">30<tspan class="dg" dx="2.6" dy="-10.2">o</tspan><tspan dx="1" dy="10.2"> N</tspan></text>
<text class="b tk" x="-10" y="148.1" text-anchor="end">32<tspan class="dg" dx="2.6" dy="-10.2">o</tspan><tspan dx="1" dy="10.2"> N</tspan></text>
<text class="b tk" x="-10" y="133.3" text-anchor="end">34<tspan class="dg" dx="2.6" dy="-10.2">o</tspan><tspan dx="1" dy="10.2"> N</tspan></text>
<text class="b tk" x="-10" y="118" text-anchor="end">36<tspan class="dg" dx="2.6" dy="-10.2">o</tspan><tspan dx="1" dy="10.2"> N</tspan></text>
<text class="b tk" x="-10" y="102.4" text-anchor="end">38<tspan class="dg" dx="2.6" dy="-10.2">o</tspan><tspan dx="1" dy="10.2"> N</tspan></text>
<text class="b tk" x="-10" y="86.4" text-anchor="end">40<tspan class="dg" dx="2.6" dy="-10.2">o</tspan><tspan dx="1" dy="10.2"> N</tspan></text>
<text class="b tk" x="-10" y="69.8" text-anchor="end">42<tspan class="dg" dx="2.6" dy="-10.2">o</tspan><tspan dx="1" dy="10.2"> N</tspan></text>
<text class="b tk" x="-10" y="52.8" text-anchor="end">44<tspan class="dg" dx="2.6" dy="-10.2">o</tspan><tspan dx="1" dy="10.2"> N</tspan></text>
<text class="b tk" x="-10" y="35.1" text-anchor="end">46<tspan class="dg" dx="2.6" dy="-10.2">o</tspan><tspan dx="1" dy="10.2"> N</tspan></text>
<text class="b tk" x="-10" y="16.8" text-anchor="end">48<tspan class="dg" dx="2.6" dy="-10.2">o</tspan><tspan dx="1" dy="10.2"> N</tspan></text>
</g>
<rect x="441.3" y="483.2" width="23.5" height="219.3" fill="url(#jet)" stroke="#262626" stroke-width="0.8"/>
<path d="M464.8 535.5h-2.5" stroke="#262626" stroke-width="0.8"/>
<text class="b cb" x="473.2" y="543.3">5</text>
<path d="M464.8 592.2h-2.5" stroke="#262626" stroke-width="0.8"/>
<text class="b cb" x="473.2" y="600">0</text>
<path d="M464.8 649.7h-2.5" stroke="#262626" stroke-width="0.8"/>
<text class="b cb" x="473.2" y="657.5">-5</text>
<text class="b pt" x="307.5" y="731.7" text-anchor="middle">SAT-RAP Negative Lifted Index</text>
<g transform="translate(616.6,486.4) scale(0.9983,1.0000)">
<rect x="0" y="0" width="234.3" height="212.9" fill="none" stroke="#000" stroke-width="1"/>
<g clip-path="url(#dc)"><g clip-path="url(#sw)"><path d="M-2.5 -2.5h125M-2.5 2.5h125M-2.5 7.5h125M-2.5 12.5h125M-2.5 17.5h125M-2.5 22.5h125M-2.5 27.5h125M-2.5 32.5h125M-2.5 37.5h125M-2.5 42.5h125M-2.5 47.5h125M-2.5 52.5h125M-2.5 57.5h165M-2.5 62.5h165M-2.5 67.5h165M-2.5 72.5h165M-2.5 77.5h155M-2.5 82.5h155M-2.5 87.5h155M-2.5 92.5h155M-2.5 97.5h145M-2.5 102.5h145M-2.5 107.5h145M-2.5 112.5h145M-2.5 117.5h135M-2.5 122.5h135M-2.5 127.5h115M-2.5 132.5h115M-2.5 137.5h115M-2.5 142.5h115M-2.5 147.5h105M-2.5 152.5h105M57.5 157.5h15M57.5 162.5h15" fill="none" stroke="#7dff7a" stroke-width="7.6" stroke-linecap="round"/></g><path d="M119.7 167.6h0" fill="none" stroke="#0000cb" stroke-width="7.2" stroke-linecap="round"/><path d="M113.2 168.7h0" fill="none" stroke="#0090ff" stroke-width="7.2" stroke-linecap="round"/><path d="M164.4 16.6h0M170.4 17.3h0M177.1 19.3h0M161.7 19.9h0M167.1 22.6h0M173.7 23.9h0M177.7 22.6h0M168.4 29.3h0M173.7 30.6h0M169.7 35.9h0M173.1 37.3h0M171.1 40.6h0M167.7 46.6h0" fill="none" stroke="#66f28c" stroke-width="7.2" stroke-linecap="round"/><path d="M131.9 24.3h0M135.8 23.3h0" fill="none" stroke="#7dff7a" stroke-width="7.2" stroke-linecap="round"/><path d="M126.1 33.5h0M126.6 37.4h0M126.1 41.3h0M125.6 45.2h0" fill="none" stroke="#c4f542" stroke-width="7.2" stroke-linecap="round"/><path d="M62.4 34.6h0M61.7 41.3h0M60.4 47.9h0M72.4 25.9h0M73.1 31.3h0M85.1 17.9h0M87.1 23.3h0M79.7 55.3h0" fill="none" stroke="#fff" stroke-width="3" stroke-linecap="round"/><path d="M40.4 129.5L40.4 136M72.6 132.3L59.5 140L50.7 148.7L51.8 156.5" fill="none" stroke="#fff" stroke-width="5.6" stroke-linecap="round" stroke-linejoin="round"/></g>
<g clip-path="url(#fc)"><use href="#st"/></g>
<text class="b tk" x="45.3" y="-19.7" text-anchor="middle">100<tspan class="dg" dx="2.6" dy="-10.2">o</tspan><tspan dx="1" dy="10.2"> W</tspan></text>
<text class="b tk" x="109.6" y="-19.7" text-anchor="middle">90<tspan class="dg" dx="2.6" dy="-10.2">o</tspan><tspan dx="1" dy="10.2"> W</tspan></text>
<text class="b tk" x="173.9" y="-19.7" text-anchor="middle">80<tspan class="dg" dx="2.6" dy="-10.2">o</tspan><tspan dx="1" dy="10.2"> W</tspan></text>
<text class="b tk" x="238.2" y="-19.7" text-anchor="middle">70<tspan class="dg" dx="2.6" dy="-10.2">o</tspan><tspan dx="1" dy="10.2"> W</tspan></text>
<text class="b tk" x="-10" y="218.3" text-anchor="end">22<tspan class="dg" dx="2.6" dy="-10.2">o</tspan><tspan dx="1" dy="10.2"> N</tspan></text>
<text class="b tk" x="-10" y="204.7" text-anchor="end">24<tspan class="dg" dx="2.6" dy="-10.2">o</tspan><tspan dx="1" dy="10.2"> N</tspan></text>
<text class="b tk" x="-10" y="191" text-anchor="end">26<tspan class="dg" dx="2.6" dy="-10.2">o</tspan><tspan dx="1" dy="10.2"> N</tspan></text>
<text class="b tk" x="-10" y="177" text-anchor="end">28<tspan class="dg" dx="2.6" dy="-10.2">o</tspan><tspan dx="1" dy="10.2"> N</tspan></text>
<text class="b tk" x="-10" y="162.7" text-anchor="end">30<tspan class="dg" dx="2.6" dy="-10.2">o</tspan><tspan dx="1" dy="10.2"> N</tspan></text>
<text class="b tk" x="-10" y="148.1" text-anchor="end">32<tspan class="dg" dx="2.6" dy="-10.2">o</tspan><tspan dx="1" dy="10.2"> N</tspan></text>
<text class="b tk" x="-10" y="133.3" text-anchor="end">34<tspan class="dg" dx="2.6" dy="-10.2">o</tspan><tspan dx="1" dy="10.2"> N</tspan></text>
<text class="b tk" x="-10" y="118" text-anchor="end">36<tspan class="dg" dx="2.6" dy="-10.2">o</tspan><tspan dx="1" dy="10.2"> N</tspan></text>
<text class="b tk" x="-10" y="102.4" text-anchor="end">38<tspan class="dg" dx="2.6" dy="-10.2">o</tspan><tspan dx="1" dy="10.2"> N</tspan></text>
<text class="b tk" x="-10" y="86.4" text-anchor="end">40<tspan class="dg" dx="2.6" dy="-10.2">o</tspan><tspan dx="1" dy="10.2"> N</tspan></text>
<text class="b tk" x="-10" y="69.8" text-anchor="end">42<tspan class="dg" dx="2.6" dy="-10.2">o</tspan><tspan dx="1" dy="10.2"> N</tspan></text>
<text class="b tk" x="-10" y="52.8" text-anchor="end">44<tspan class="dg" dx="2.6" dy="-10.2">o</tspan><tspan dx="1" dy="10.2"> N</tspan></text>
<text class="b tk" x="-10" y="35.1" text-anchor="end">46<tspan class="dg" dx="2.6" dy="-10.2">o</tspan><tspan dx="1" dy="10.2"> N</tspan></text>
<text class="b tk" x="-10" y="16.8" text-anchor="end">48<tspan class="dg" dx="2.6" dy="-10.2">o</tspan><tspan dx="1" dy="10.2"> N</tspan></text>
</g>
<rect x="862.4" y="483.2" width="23.3" height="219.2" fill="url(#jet)" stroke="#262626" stroke-width="0.8"/>
<path d="M885.7 509.9h-2.5" stroke="#262626" stroke-width="0.8"/>
<text class="b cb" x="894.1" y="517.7">200</text>
<path d="M885.7 551.2h-2.5" stroke="#262626" stroke-width="0.8"/>
<text class="b cb" x="894.1" y="559">100</text>
<path d="M885.7 592.2h-2.5" stroke="#262626" stroke-width="0.8"/>
<text class="b cb" x="894.1" y="600">0</text>
<path d="M885.7 633.5h-2.5" stroke="#262626" stroke-width="0.8"/>
<text class="b cb" x="894.1" y="641.3">-100</text>
<path d="M885.7 674.9h-2.5" stroke="#262626" stroke-width="0.8"/>
<text class="b cb" x="894.1" y="682.7">-200</text>
<text class="b pt" x="728.5" y="731.7" text-anchor="middle">SAT-RAP CAPE</text>
<g transform="translate(1037.5,485.3) scale(1.0030,1.0108)">
<rect x="0" y="0" width="234.3" height="212.9" fill="none" stroke="#000" stroke-width="1"/>
<g clip-path="url(#dc)"><g clip-path="url(#sw)"><g mask="url(#mk5)"><rect x="-6" y="-6" width="250" height="190" fill="#a2ff5e"/><g filter="url(#bl3)"><path fill="#0090ff" d="M64.7 -5.3h20.6v10.6h-20.6zM64.7 4.7h20.6v10.6h-20.6zM64.7 14.7h10.6v10.6h-10.6zM4.7 74.7h10.6v10.6h-10.6zM-5.3 84.7h20.6v10.6h-20.6zM-5.3 94.7h20.6v10.6h-20.6z"/><path fill="#00d4ff" d="M54.7 -5.3h10.6v10.6h-10.6zM84.7 -5.3h20.6v10.6h-20.6zM54.7 4.7h10.6v10.6h-10.6zM84.7 4.7h20.6v10.6h-20.6zM54.7 14.7h10.6v10.6h-10.6zM74.7 14.7h20.6v10.6h-20.6zM64.7 24.7h30.6v10.6h-30.6zM64.7 34.7h10.6v10.6h-10.6zM-5.3 54.7h20.6v10.6h-20.6zM-5.3 64.7h30.6v10.6h-30.6zM-5.3 74.7h10.6v10.6h-10.6zM14.7 74.7h10.6v10.6h-10.6zM14.7 84.7h10.6v10.6h-10.6zM14.7 94.7h10.6v10.6h-10.6z"/><path fill="#1affe5" d="M24.7 -5.3h30.6v10.6h-30.6zM104.7 -5.3h140.6v10.6h-140.6zM34.7 4.7h20.6v10.6h-20.6zM104.7 4.7h140.6v10.6h-140.6zM34.7 14.7h20.6v10.6h-20.6zM94.7 14.7h10.6v10.6h-10.6zM44.7 24.7h20.6v10.6h-20.6zM54.7 34.7h10.6v10.6h-10.6zM74.7 34.7h20.6v10.6h-20.6zM-5.3 44.7h20.6v10.6h-20.6zM54.7 44.7h10.6v10.6h-10.6zM14.7 54.7h20.6v10.6h-20.6zM24.7 64.7h10.6v10.6h-10.6zM24.7 74.7h10.6v10.6h-10.6zM24.7 84.7h10.6v10.6h-10.6z"/><path fill="#5effa2" d="M14.7 -5.3h10.6v10.6h-10.6zM14.7 4.7h20.6v10.6h-20.6zM24.7 14.7h10.6v10.6h-10.6zM104.7 14.7h140.6v10.6h-140.6zM34.7 24.7h10.6v10.6h-10.6zM94.7 24.7h10.6v10.6h-10.6zM-5.3 34.7h20.6v10.6h-20.6zM44.7 34.7h10.6v10.6h-10.6zM94.7 34.7h10.6v10.6h-10.6zM44.7 44.7h10.6v10.6h-10.6zM64.7 44.7h20.6v10.6h-20.6zM34.7 54.7h10.6v10.6h-10.6zM34.7 64.7h10.6v10.6h-10.6zM24.7 94.7h10.6v10.6h-10.6zM-5.3 104.7h30.6v10.6h-30.6zM-5.3 114.7h30.6v10.6h-30.6zM-5.3 124.7h20.6v10.6h-20.6z"/><path fill="#a2ff5e" d="M-5.3 -5.3h20.6v10.6h-20.6zM14.7 14.7h10.6v10.6h-10.6zM4.7 24.7h30.6v10.6h-30.6zM104.7 24.7h50.6v10.6h-50.6zM34.7 34.7h10.6v10.6h-10.6zM14.7 44.7h10.6v10.6h-10.6zM34.7 44.7h10.6v10.6h-10.6zM84.7 44.7h20.6v10.6h-20.6zM44.7 54.7h40.6v10.6h-40.6zM34.7 74.7h10.6v10.6h-10.6zM54.7 94.7h10.6v10.6h-10.6zM24.7 104.7h20.6v10.6h-20.6zM24.7 114.7h20.6v10.6h-20.6zM14.7 124.7h10.6v10.6h-10.6zM-5.3 134.7h20.6v10.6h-20.6zM44.7 144.7h10.6v10.6h-10.6z"/><path fill="#e5ff1a" d="M-5.3 4.7h20.6v10.6h-20.6zM-5.3 14.7h20.6v10.6h-20.6zM-5.3 24.7h10.6v10.6h-10.6zM154.7 24.7h90.6v10.6h-90.6zM14.7 34.7h20.6v10.6h-20.6zM104.7 34.7h10.6v10.6h-10.6zM144.7 34.7h100.6v10.6h-100.6zM24.7 44.7h10.6v10.6h-10.6zM104.7 44.7h10.6v10.6h-10.6zM134.7 44.7h110.6v10.6h-110.6zM84.7 54.7h20.6v10.6h-20.6zM124.7 54.7h120.6v10.6h-120.6zM44.7 64.7h70.6v10.6h-70.6zM144.7 64.7h100.6v10.6h-100.6zM44.7 74.7h70.6v10.6h-70.6zM144.7 74.7h100.6v10.6h-100.6zM34.7 84.7h70.6v10.6h-70.6zM144.7 84.7h100.6v10.6h-100.6zM34.7 94.7h20.6v10.6h-20.6zM64.7 94.7h30.6v10.6h-30.6zM44.7 104.7h30.6v10.6h-30.6zM44.7 114.7h20.6v10.6h-20.6zM24.7 124.7h20.6v10.6h-20.6zM14.7 134.7h30.6v10.6h-30.6zM-5.3 144.7h30.6v10.6h-30.6zM-5.3 154.7h30.6v10.6h-30.6zM-5.3 164.7h30.6v10.6h-30.6z"/><path fill="#ffd500" d="M114.7 34.7h30.6v10.6h-30.6zM114.7 44.7h20.6v10.6h-20.6zM104.7 54.7h20.6v10.6h-20.6zM114.7 64.7h30.6v10.6h-30.6zM114.7 74.7h30.6v10.6h-30.6zM104.7 84.7h40.6v10.6h-40.6zM94.7 94.7h150.6v10.6h-150.6zM74.7 104.7h10.6v10.6h-10.6zM64.7 114.7h20.6v10.6h-20.6zM124.7 114.7h120.6v10.6h-120.6zM44.7 124.7h20.6v10.6h-20.6zM124.7 124.7h120.6v10.6h-120.6zM44.7 134.7h10.6v10.6h-10.6zM24.7 144.7h20.6v10.6h-20.6zM24.7 154.7h30.6v10.6h-30.6zM24.7 164.7h30.6v10.6h-30.6z"/><path fill="#ff9100" d="M104.7 104.7h140.6v10.6h-140.6zM84.7 114.7h10.6v10.6h-10.6zM114.7 114.7h10.6v10.6h-10.6zM64.7 124.7h10.6v10.6h-10.6zM104.7 124.7h20.6v10.6h-20.6zM104.7 134.7h140.6v10.6h-140.6z"/><path fill="#ff4c00" d="M84.7 104.7h20.6v10.6h-20.6zM94.7 114.7h20.6v10.6h-20.6zM74.7 124.7h30.6v10.6h-30.6zM54.7 134.7h10.6v10.6h-10.6zM84.7 134.7h20.6v10.6h-20.6zM84.7 144.7h10.6v10.6h-10.6z"/><path fill="#ff0800" d="M64.7 134.7h20.6v10.6h-20.6zM54.7 144.7h30.6v10.6h-30.6zM94.7 144.7h150.6v10.6h-150.6zM54.7 154.7h190.6v10.6h-190.6zM54.7 164.7h190.6v10.6h-190.6z"/></g></g></g><path d="M131.9 24.3h0M135.8 23.3h0" fill="none" stroke="#1affe5" stroke-width="7.2" stroke-linecap="round"/><path d="M164.4 16.6h0M170.4 17.3h0" fill="none" stroke="#5effa2" stroke-width="7.2" stroke-linecap="round"/><path d="M177.1 19.3h0M161.7 19.9h0M167.1 22.6h0M173.7 23.9h0M177.7 22.6h0M168.4 29.3h0M173.7 30.6h0M169.7 35.9h0M173.1 37.3h0M171.1 40.6h0M167.7 46.6h0" fill="none" stroke="#a2ff5e" stroke-width="7.2" stroke-linecap="round"/><path d="M126.1 33.5h0M126.6 37.4h0M126.1 41.3h0M125.6 45.2h0M125.1 48.1h0" fill="none" stroke="#ffd500" stroke-width="7.2" stroke-linecap="round"/><path d="M113.2 168.7h0M119.7 167.6h0" fill="none" stroke="#c30000" stroke-width="7.2" stroke-linecap="round"/><path d="M62.4 34.6h0M61.7 41.3h0M60.4 47.9h0M72.4 25.9h0M73.1 31.3h0M85.1 17.9h0M87.1 23.3h0M79.7 55.3h0" fill="none" stroke="#fff" stroke-width="3" stroke-linecap="round"/><path d="M40.4 129.5L40.4 135M70 131L58.5 137.5" fill="none" stroke="#fff" stroke-width="5.6" stroke-linecap="round" stroke-linejoin="round"/></g>
<g clip-path="url(#fc)"><use href="#st"/></g>
<text class="b tk" x="47.1" y="-19.7" text-anchor="middle">100<tspan class="dg" dx="2.6" dy="-10.2">o</tspan><tspan dx="1" dy="10.2"> W</tspan></text>
<text class="b tk" x="110.7" y="-19.7" text-anchor="middle">90<tspan class="dg" dx="2.6" dy="-10.2">o</tspan><tspan dx="1" dy="10.2"> W</tspan></text>
<text class="b tk" x="174.3" y="-19.7" text-anchor="middle">80<tspan class="dg" dx="2.6" dy="-10.2">o</tspan><tspan dx="1" dy="10.2"> W</tspan></text>
<text class="b tk" x="237.9" y="-19.7" text-anchor="middle">70<tspan class="dg" dx="2.6" dy="-10.2">o</tspan><tspan dx="1" dy="10.2"> W</tspan></text>
<text class="b tk" x="-10" y="218.9" text-anchor="end">22<tspan class="dg" dx="2.6" dy="-10.2">o</tspan><tspan dx="1" dy="10.2"> N</tspan></text>
<text class="b tk" x="-10" y="205.3" text-anchor="end">24<tspan class="dg" dx="2.6" dy="-10.2">o</tspan><tspan dx="1" dy="10.2"> N</tspan></text>
<text class="b tk" x="-10" y="191.6" text-anchor="end">26<tspan class="dg" dx="2.6" dy="-10.2">o</tspan><tspan dx="1" dy="10.2"> N</tspan></text>
<text class="b tk" x="-10" y="177.6" text-anchor="end">28<tspan class="dg" dx="2.6" dy="-10.2">o</tspan><tspan dx="1" dy="10.2"> N</tspan></text>
<text class="b tk" x="-10" y="163.3" text-anchor="end">30<tspan class="dg" dx="2.6" dy="-10.2">o</tspan><tspan dx="1" dy="10.2"> N</tspan></text>
<text class="b tk" x="-10" y="148.7" text-anchor="end">32<tspan class="dg" dx="2.6" dy="-10.2">o</tspan><tspan dx="1" dy="10.2"> N</tspan></text>
<text class="b tk" x="-10" y="133.9" text-anchor="end">34<tspan class="dg" dx="2.6" dy="-10.2">o</tspan><tspan dx="1" dy="10.2"> N</tspan></text>
<text class="b tk" x="-10" y="118.6" text-anchor="end">36<tspan class="dg" dx="2.6" dy="-10.2">o</tspan><tspan dx="1" dy="10.2"> N</tspan></text>
<text class="b tk" x="-10" y="103" text-anchor="end">38<tspan class="dg" dx="2.6" dy="-10.2">o</tspan><tspan dx="1" dy="10.2"> N</tspan></text>
<text class="b tk" x="-10" y="87" text-anchor="end">40<tspan class="dg" dx="2.6" dy="-10.2">o</tspan><tspan dx="1" dy="10.2"> N</tspan></text>
<text class="b tk" x="-10" y="70.4" text-anchor="end">42<tspan class="dg" dx="2.6" dy="-10.2">o</tspan><tspan dx="1" dy="10.2"> N</tspan></text>
<text class="b tk" x="-10" y="53.4" text-anchor="end">44<tspan class="dg" dx="2.6" dy="-10.2">o</tspan><tspan dx="1" dy="10.2"> N</tspan></text>
<text class="b tk" x="-10" y="35.7" text-anchor="end">46<tspan class="dg" dx="2.6" dy="-10.2">o</tspan><tspan dx="1" dy="10.2"> N</tspan></text>
<text class="b tk" x="-10" y="17.4" text-anchor="end">48<tspan class="dg" dx="2.6" dy="-10.2">o</tspan><tspan dx="1" dy="10.2"> N</tspan></text>
</g>
<rect x="1285.3" y="483.4" width="23.5" height="219.1" fill="url(#jet)" stroke="#262626" stroke-width="0.8"/>
<path d="M1308.8 521h-2.5" stroke="#262626" stroke-width="0.8"/>
<text class="b cb" x="1317.2" y="528.8">280</text>
<path d="M1308.8 566.3h-2.5" stroke="#262626" stroke-width="0.8"/>
<text class="b cb" x="1317.2" y="574.1">270</text>
<path d="M1308.8 611.7h-2.5" stroke="#262626" stroke-width="0.8"/>
<text class="b cb" x="1317.2" y="619.5">260</text>
<path d="M1308.8 657.1h-2.5" stroke="#262626" stroke-width="0.8"/>
<text class="b cb" x="1317.2" y="664.9">250</text>
<text class="b pt" x="1150.5" y="731.7" text-anchor="middle">Surface Skin Temperature (K)</text>
</svg></body></html>
